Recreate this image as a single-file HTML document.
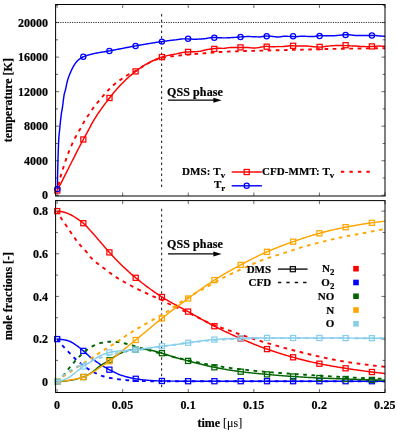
<!DOCTYPE html>
<html><head><meta charset="utf-8"><title>chart</title>
<style>html,body{margin:0;padding:0;background:#fff;}body{width:397px;height:436px;overflow:hidden;font-family:"Liberation Serif",serif;}svg{display:block;will-change:transform;transform:translateZ(0);}</style></head>
<body>
<svg width="397" height="436" viewBox="0 0 397 436">
<rect width="397" height="436" fill="#fff"/>
<defs><clipPath id="c1"><rect x="55.60" y="4.50" width="329.40" height="191.50"/></clipPath><clipPath id="c2"><rect x="55.60" y="200.60" width="329.40" height="191.90"/></clipPath></defs>
<path d="M57.10 196.00 v-3.50 M57.10 4.50 v3.50 M57.10 392.50 v-3.50 M57.10 200.60 v3.50 M122.68 196.00 v-3.50 M122.68 4.50 v3.50 M122.68 392.50 v-3.50 M122.68 200.60 v3.50 M188.26 196.00 v-3.50 M188.26 4.50 v3.50 M188.26 392.50 v-3.50 M188.26 200.60 v3.50 M253.84 196.00 v-3.50 M253.84 4.50 v3.50 M253.84 392.50 v-3.50 M253.84 200.60 v3.50 M319.42 196.00 v-3.50 M319.42 4.50 v3.50 M319.42 392.50 v-3.50 M319.42 200.60 v3.50 M385.00 196.00 v-3.50 M385.00 4.50 v3.50 M385.00 392.50 v-3.50 M385.00 200.60 v3.50 M55.60 195.30 h3.50 M385.00 195.30 h-3.50 M55.60 178.03 h2.40 M385.00 178.03 h-2.40 M55.60 160.75 h3.50 M385.00 160.75 h-3.50 M55.60 143.48 h2.40 M385.00 143.48 h-2.40 M55.60 126.20 h3.50 M385.00 126.20 h-3.50 M55.60 108.93 h2.40 M385.00 108.93 h-2.40 M55.60 91.66 h3.50 M385.00 91.66 h-3.50 M55.60 74.38 h2.40 M385.00 74.38 h-2.40 M55.60 57.11 h3.50 M385.00 57.11 h-3.50 M55.60 39.83 h2.40 M385.00 39.83 h-2.40 M55.60 22.56 h3.50 M385.00 22.56 h-3.50 M55.60 5.29 h2.40 M385.00 5.29 h-2.40 M55.60 381.70 h3.50 M385.00 381.70 h-3.50 M55.60 360.38 h2.40 M385.00 360.38 h-2.40 M55.60 339.06 h3.50 M385.00 339.06 h-3.50 M55.60 317.74 h2.40 M385.00 317.74 h-2.40 M55.60 296.42 h3.50 M385.00 296.42 h-3.50 M55.60 275.10 h2.40 M385.00 275.10 h-2.40 M55.60 253.78 h3.50 M385.00 253.78 h-3.50 M55.60 232.46 h2.40 M385.00 232.46 h-2.40 M55.60 211.14 h3.50 M385.00 211.14 h-3.50" stroke="#444" stroke-width="0.8" fill="none"/>
<path d="M55.60 22.46 H385.00" stroke="#111" stroke-width="0.9" stroke-dasharray="1.15 1.2" fill="none"/>
<path d="M161.65 14.10 V187.60" stroke="#111" stroke-width="1.0" stroke-dasharray="2.4 3.1" fill="none"/>
<path d="M161.65 208.80 V387.40" stroke="#111" stroke-width="1.0" stroke-dasharray="2.4 3.1" fill="none"/>
<path d="M57.30 190.50 L58.30 188.51 L59.30 186.52 L60.30 184.54 L61.30 182.55 L62.30 180.57 L63.30 178.59 L64.30 176.61 L65.30 174.64 L66.30 172.67 L67.30 170.70 L68.30 168.73 L69.30 166.75 L70.30 164.77 L71.30 162.78 L72.30 160.79 L73.30 158.80 L74.30 156.81 L75.30 154.83 L76.30 152.86 L77.30 150.90 L78.30 148.96 L79.30 147.02 L80.30 145.11 L81.30 143.22 L82.30 141.35 L83.30 139.50 L84.30 137.71 L85.30 135.97 L86.30 134.20 L87.30 132.36 L88.30 130.46 L89.30 128.53 L90.30 126.59 L91.30 124.69 L92.30 122.84 L93.30 121.07 L94.30 119.41 L95.30 117.81 L96.30 116.25 L97.30 114.72 L98.30 113.21 L99.30 111.74 L100.30 110.30 L101.30 108.88 L102.30 107.49 L103.30 106.12 L104.30 104.77 L105.30 103.43 L106.30 102.12 L107.30 100.82 L108.30 99.53 L109.30 98.25 L110.30 96.99 L111.30 95.73 L112.30 94.49 L113.30 93.27 L114.30 92.06 L115.30 90.87 L116.30 89.70 L117.30 88.55 L118.30 87.43 L119.30 86.33 L120.30 85.26 L121.30 84.21 L122.30 83.20 L123.30 82.20 L124.30 81.22 L125.30 80.26 L126.30 79.31 L127.30 78.38 L128.30 77.47 L129.30 76.58 L130.30 75.70 L131.30 74.85 L132.30 74.01 L133.30 73.20 L134.30 72.40 L135.30 71.63 L136.30 70.87 L137.30 70.13 L138.30 69.40 L139.30 68.68 L140.30 67.97 L141.30 67.29 L142.30 66.61 L143.30 65.96 L144.30 65.33 L145.30 64.72 L146.30 64.14 L147.30 63.58 L148.30 63.04 L149.30 62.52 L150.30 62.00 L151.30 61.50 L152.30 61.01 L153.30 60.52 L154.30 60.06 L155.30 59.61 L156.30 59.17 L157.30 58.75 L158.30 58.36 L159.30 57.98 L160.30 57.62 L161.30 57.29 L162.30 56.98 L163.30 56.68 L164.30 56.40 L165.30 56.14 L166.30 55.88 L167.30 55.63 L168.30 55.40 L169.30 55.17 L170.30 54.96 L171.30 54.78 L172.30 54.60 L173.30 54.43 L174.30 54.27 L175.30 54.11 L176.30 53.92 L177.30 53.67 L178.30 53.42 L179.30 53.18 L180.30 52.94 L181.30 52.71 L182.30 52.51 L183.30 52.39 L184.30 52.27 L185.30 52.16 L186.30 52.06 L187.30 51.98 L188.30 51.91 L189.30 51.86 L190.30 51.83 L191.30 51.81 L192.30 51.79 L193.30 51.78 L194.30 51.75 L195.30 51.68 L196.30 51.62 L197.30 51.54 L198.30 51.47 L199.30 51.38 L200.30 51.25 L201.30 51.03 L202.30 50.78 L203.30 50.52 L204.30 50.25 L205.30 49.97 L206.30 49.71 L207.30 49.55 L208.30 49.39 L209.30 49.23 L210.30 49.08 L211.30 48.95 L212.30 48.82 L213.30 48.69 L214.30 48.58 L215.30 48.49 L216.30 48.41 L217.30 48.34 L218.30 48.30 L219.30 48.31 L220.30 48.33 L221.30 48.34 L222.30 48.35 L223.30 48.35 L224.30 48.31 L225.30 48.18 L226.30 48.04 L227.30 47.90 L228.30 47.76 L229.30 47.62 L230.30 47.52 L231.30 47.50 L232.30 47.49 L233.30 47.48 L234.30 47.48 L235.30 47.48 L236.30 47.48 L237.30 47.46 L238.30 47.46 L239.30 47.47 L240.30 47.49 L241.30 47.52 L242.30 47.55 L243.30 47.53 L244.30 47.52 L245.30 47.52 L246.30 47.52 L247.30 47.52 L248.30 47.56 L249.30 47.67 L250.30 47.78 L251.30 47.87 L252.30 47.95 L253.30 48.02 L254.30 48.02 L255.30 47.95 L256.30 47.85 L257.30 47.74 L258.30 47.60 L259.30 47.46 L260.30 47.30 L261.30 47.08 L262.30 46.88 L263.30 46.69 L264.30 46.51 L265.30 46.37 L266.30 46.30 L267.30 46.38 L268.30 46.46 L269.30 46.55 L270.30 46.63 L271.30 46.72 L272.30 46.78 L273.30 46.74 L274.30 46.71 L275.30 46.68 L276.30 46.64 L277.30 46.60 L278.30 46.59 L279.30 46.61 L280.30 46.64 L281.30 46.63 L282.30 46.60 L283.30 46.55 L284.30 46.47 L285.30 46.34 L286.30 46.21 L287.30 46.07 L288.30 45.94 L289.30 45.82 L290.30 45.74 L291.30 45.74 L292.30 45.76 L293.30 45.81 L294.30 45.88 L295.30 45.96 L296.30 46.01 L297.30 46.01 L298.30 46.01 L299.30 46.02 L300.30 46.03 L301.30 46.04 L302.30 46.06 L303.30 46.06 L304.30 46.07 L305.30 46.08 L306.30 46.08 L307.30 46.08 L308.30 46.12 L309.30 46.23 L310.30 46.35 L311.30 46.47 L312.30 46.58 L313.30 46.70 L314.30 46.80 L315.30 46.88 L316.30 46.96 L317.30 47.02 L318.30 47.08 L319.30 47.13 L320.30 47.13 L321.30 47.03 L322.30 46.91 L323.30 46.78 L324.30 46.63 L325.30 46.47 L326.30 46.33 L327.30 46.22 L328.30 46.11 L329.30 46.00 L330.30 45.90 L331.30 45.81 L332.30 45.74 L333.30 45.69 L334.30 45.64 L335.30 45.59 L336.30 45.54 L337.30 45.48 L338.30 45.45 L339.30 45.46 L340.30 45.48 L341.30 45.50 L342.30 45.53 L343.30 45.58 L344.30 45.61 L345.30 45.60 L346.30 45.61 L347.30 45.65 L348.30 45.70 L349.30 45.76 L350.30 45.83 L351.30 45.86 L352.30 45.91 L353.30 45.95 L354.30 45.99 L355.30 46.02 L356.30 46.07 L357.30 46.17 L358.30 46.25 L359.30 46.32 L360.30 46.40 L361.30 46.47 L362.30 46.53 L363.30 46.56 L364.30 46.59 L365.30 46.62 L366.30 46.64 L367.30 46.66 L368.30 46.65 L369.30 46.60 L370.30 46.54 L371.30 46.48 L372.30 46.41 L373.30 46.34 L374.30 46.28 L375.30 46.23 L376.30 46.19 L377.30 46.14 L378.30 46.09 L379.30 46.04 L380.30 46.03 L381.30 46.11 L382.30 46.18 L383.30 46.24 L384.30 46.31 L385.00 46.35" stroke="#ff0000" stroke-width="1.45" fill="none" stroke-linejoin="round" clip-path="url(#c1)"/>
<rect x="54.75" y="187.95" width="5.10" height="5.10" fill="none" stroke="#ff0000" stroke-width="1.25"/>
<rect x="80.75" y="136.95" width="5.10" height="5.10" fill="none" stroke="#ff0000" stroke-width="1.25"/>
<rect x="106.95" y="95.45" width="5.10" height="5.10" fill="none" stroke="#ff0000" stroke-width="1.25"/>
<rect x="133.05" y="68.85" width="5.10" height="5.10" fill="none" stroke="#ff0000" stroke-width="1.25"/>
<rect x="159.35" y="54.55" width="5.10" height="5.10" fill="none" stroke="#ff0000" stroke-width="1.25"/>
<rect x="185.55" y="49.35" width="5.10" height="5.10" fill="none" stroke="#ff0000" stroke-width="1.25"/>
<rect x="211.75" y="46.35" width="5.10" height="5.10" fill="none" stroke="#ff0000" stroke-width="1.25"/>
<rect x="237.95" y="44.85" width="5.10" height="5.10" fill="none" stroke="#ff0000" stroke-width="1.25"/>
<rect x="264.15" y="44.15" width="5.10" height="5.10" fill="none" stroke="#ff0000" stroke-width="1.25"/>
<rect x="290.55" y="43.25" width="5.10" height="5.10" fill="none" stroke="#ff0000" stroke-width="1.25"/>
<rect x="317.05" y="44.35" width="5.10" height="5.10" fill="none" stroke="#ff0000" stroke-width="1.25"/>
<rect x="343.05" y="42.65" width="5.10" height="5.10" fill="none" stroke="#ff0000" stroke-width="1.25"/>
<rect x="369.35" y="43.85" width="5.10" height="5.10" fill="none" stroke="#ff0000" stroke-width="1.25"/>
<path d="M57.40 189.00 L57.41 188.40 L57.41 187.80 L57.42 187.20 L57.42 186.60 L57.43 186.00 L57.44 185.40 L57.44 184.80 L57.45 184.20 L57.46 183.60 L57.47 183.00 L57.48 182.40 L57.49 181.80 L57.49 181.20 L57.50 180.60 L57.51 180.00 L57.52 179.40 L57.53 178.80 L57.54 178.20 L57.55 177.60 L57.56 177.00 L57.57 176.40 L57.59 175.80 L57.60 175.20 L57.61 174.60 L57.62 174.00 L57.63 173.40 L57.64 172.80 L57.66 172.20 L57.67 171.60 L57.68 171.00 L57.70 170.40 L57.71 169.80 L57.73 169.20 L57.74 168.60 L57.76 168.00 L57.78 167.40 L57.79 166.80 L57.81 166.20 L57.83 165.60 L57.84 165.00 L57.86 164.40 L57.88 163.80 L57.89 163.21 L57.91 162.61 L57.93 162.01 L57.95 161.41 L57.96 160.81 L57.98 160.21 L58.00 159.61 L58.02 159.01 L58.03 158.41 L58.05 157.81 L58.07 157.21 L58.09 156.61 L58.10 156.01 L58.12 155.41 L58.14 154.81 L58.16 154.21 L58.18 153.61 L58.19 153.01 L58.21 152.41 L58.23 151.81 L58.25 151.21 L58.27 150.61 L58.29 150.01 L58.32 149.41 L58.34 148.81 L58.36 148.21 L58.38 147.61 L58.41 147.01 L58.43 146.41 L58.45 145.81 L58.48 145.21 L58.50 144.61 L58.53 144.01 L58.56 143.41 L58.58 142.81 L58.61 142.21 L58.64 141.61 L58.67 141.02 L58.70 140.42 L58.73 139.82 L58.77 139.22 L58.80 138.62 L58.83 138.02 L58.87 137.43 L58.92 136.83 L58.97 136.23 L59.02 135.63 L59.07 135.03 L59.13 134.44 L59.19 133.84 L59.25 133.24 L59.31 132.65 L59.37 132.05 L59.44 131.45 L59.50 130.85 L59.56 130.26 L59.63 129.66 L59.69 129.06 L59.75 128.47 L59.81 127.87 L59.87 127.27 L59.93 126.68 L59.99 126.08 L60.05 125.48 L60.11 124.88 L60.17 124.29 L60.23 123.69 L60.29 123.09 L60.35 122.49 L60.42 121.90 L60.48 121.30 L60.54 120.70 L60.60 120.11 L60.67 119.51 L60.74 118.91 L60.80 118.32 L60.87 117.72 L60.94 117.13 L61.01 116.53 L61.09 115.94 L61.16 115.34 L61.24 114.75 L61.32 114.15 L61.40 113.56 L61.49 112.97 L61.59 112.37 L61.69 111.78 L61.79 111.19 L61.89 110.60 L62.00 110.01 L62.10 109.42 L62.20 108.82 L62.30 108.23 L62.40 107.64 L62.49 107.05 L62.58 106.45 L62.67 105.86 L62.75 105.26 L62.82 104.67 L62.90 104.07 L62.97 103.48 L63.05 102.88 L63.12 102.28 L63.19 101.68 L63.26 101.09 L63.33 100.49 L63.40 99.89 L63.48 99.30 L63.55 98.70 L63.63 98.10 L63.72 97.51 L63.80 96.92 L63.89 96.33 L63.99 95.74 L64.09 95.15 L64.19 94.56 L64.31 93.97 L64.43 93.39 L64.59 92.81 L64.75 92.23 L64.93 91.66 L65.10 91.08 L65.27 90.50 L65.42 89.92 L65.56 89.34 L65.70 88.76 L65.83 88.17 L65.96 87.58 L66.08 86.99 L66.20 86.40 L66.32 85.81 L66.44 85.22 L66.57 84.63 L66.69 84.05 L66.82 83.46 L66.95 82.87 L67.08 82.29 L67.22 81.71 L67.37 81.13 L67.53 80.56 L67.69 79.98 L67.86 79.41 L68.04 78.84 L68.23 78.27 L68.42 77.70 L68.62 77.13 L68.82 76.57 L69.03 76.00 L69.25 75.44 L69.47 74.88 L69.70 74.32 L69.93 73.76 L70.16 73.21 L70.40 72.65 L70.64 72.10 L70.88 71.55 L71.13 71.01 L71.38 70.47 L71.63 69.92 L71.88 69.38 L72.15 68.84 L72.41 68.30 L72.69 67.75 L72.96 67.22 L73.25 66.68 L73.54 66.15 L73.84 65.62 L74.15 65.11 L74.47 64.60 L74.80 64.10 L75.13 63.61 L75.47 63.13 L75.83 62.67 L76.21 62.20 L76.60 61.74 L77.01 61.29 L77.43 60.85 L77.87 60.42 L78.31 60.01 L78.76 59.61 L79.22 59.24 L79.69 58.88 L80.18 58.54 L80.68 58.20 L81.20 57.88 L81.72 57.58 L82.26 57.29 L82.80 57.02 L83.34 56.78 L83.88 56.56 L84.43 56.34 L84.99 56.13 L85.55 55.93 L86.11 55.73 L86.68 55.55 L87.26 55.36 L87.83 55.18 L88.41 55.01 L89.00 54.85 L89.58 54.68 L90.17 54.53 L90.75 54.38 L91.34 54.23 L91.93 54.08 L92.51 53.94 L93.10 53.81 L93.68 53.67 L94.27 53.54 L94.85 53.41 L95.43 53.29 L96.02 53.17 L96.61 53.06 L97.20 52.94 L97.79 52.84 L98.37 52.73 L98.97 52.62 L99.56 52.52 L100.15 52.42 L100.74 52.32 L101.33 52.23 L101.93 52.13 L102.52 52.04 L103.12 51.94 L103.71 51.85 L104.30 51.75 L104.90 51.66 L105.49 51.56 L106.08 51.47 L106.68 51.37 L107.27 51.27 L107.86 51.17 L108.45 51.07 L109.04 50.96 L109.64 50.86 L110.23 50.75 L110.82 50.64 L111.41 50.53 L111.99 50.42 L112.58 50.31 L113.17 50.20 L113.76 50.08 L114.35 49.97 L114.94 49.86 L115.53 49.75 L116.12 49.63 L116.71 49.52 L117.30 49.40 L117.89 49.29 L118.48 49.17 L119.07 49.06 L119.65 48.94 L120.24 48.82 L120.83 48.71 L121.42 48.59 L122.01 48.48 L122.60 48.36 L123.19 48.25 L123.78 48.13 L124.36 48.01 L124.95 47.90 L125.54 47.78 L126.13 47.67 L126.72 47.55 L127.31 47.44 L127.90 47.33 L128.49 47.21 L129.08 47.10 L129.67 46.99 L130.26 46.88 L130.85 46.77 L131.44 46.66 L132.02 46.55 L132.61 46.44 L133.20 46.33 L133.80 46.22 L134.39 46.12 L134.98 46.01 L135.57 45.91 L136.16 45.80 L136.75 45.70 L137.34 45.59 L137.93 45.49 L138.52 45.38 L139.11 45.28 L139.70 45.18 L140.29 45.07 L140.88 44.97 L141.48 44.86 L142.07 44.76 L142.66 44.65 L143.25 44.55 L143.84 44.45 L144.43 44.34 L145.02 44.24 L145.62 44.14 L146.21 44.04 L146.80 43.94 L147.39 43.83 L147.98 43.73 L148.57 43.63 L149.17 43.53 L149.76 43.44 L150.35 43.34 L150.94 43.24 L151.53 43.14 L152.13 43.05 L152.72 42.95 L153.31 42.86 L153.91 42.76 L154.50 42.67 L155.09 42.58 L155.68 42.49 L156.28 42.40 L156.87 42.31 L157.46 42.22 L158.06 42.13 L158.65 42.05 L159.24 41.96 L159.84 41.88 L160.43 41.80 L161.03 41.72 L161.62 41.64 L162.21 41.56 L162.81 41.48 L163.40 41.40 L164.00 41.31 L164.59 41.23 L165.19 41.14 L165.78 41.06 L166.38 40.97 L166.97 40.88 L167.57 40.79 L168.16 40.70 L168.76 40.61 L169.35 40.52 L169.95 40.44 L170.54 40.37 L171.14 40.31 L171.74 40.25 L172.33 40.18 L172.93 40.12 L173.52 40.07 L174.12 40.01 L174.72 39.95 L175.31 39.90 L175.91 39.85 L176.51 39.75 L177.10 39.64 L177.70 39.54 L178.30 39.44 L178.89 39.35 L179.49 39.25 L180.09 39.16 L180.68 39.08 L181.28 38.99 L181.88 38.91 L182.48 38.88 L183.07 38.87 L183.67 38.85 L184.27 38.85 L184.87 38.84 L185.47 38.84 L186.06 38.85 L186.66 38.86 L187.26 38.87 L187.86 38.90 L188.46 38.92 L189.05 38.95 L189.65 38.98 L190.25 39.01 L190.85 39.05 L191.45 39.09 L192.05 39.14 L192.65 39.18 L193.25 39.23 L193.85 39.27 L194.45 39.27 L195.05 39.25 L195.65 39.24 L196.25 39.22 L196.86 39.20 L197.46 39.17 L198.05 39.15 L198.65 39.12 L199.25 39.08 L199.85 39.04 L200.45 39.02 L201.05 39.00 L201.65 38.97 L202.25 38.93 L202.84 38.88 L203.44 38.82 L204.04 38.76 L204.64 38.69 L205.24 38.62 L205.83 38.54 L206.43 38.44 L207.03 38.33 L207.63 38.22 L208.22 38.11 L208.82 38.00 L209.42 37.89 L210.02 37.79 L210.61 37.69 L211.21 37.60 L211.81 37.52 L212.41 37.48 L213.01 37.47 L213.61 37.47 L214.20 37.48 L214.80 37.50 L215.40 37.52 L216.00 37.54 L216.60 37.57 L217.20 37.60 L217.80 37.63 L218.40 37.66 L219.00 37.69 L219.60 37.72 L220.20 37.75 L220.80 37.78 L221.40 37.81 L222.00 37.83 L222.60 37.85 L223.20 37.87 L223.80 37.88 L224.40 37.88 L225.00 37.87 L225.60 37.86 L226.20 37.85 L226.80 37.83 L227.40 37.80 L228.00 37.78 L228.59 37.75 L229.19 37.72 L229.79 37.69 L230.39 37.66 L230.99 37.62 L231.59 37.58 L232.19 37.54 L232.79 37.50 L233.39 37.47 L233.98 37.43 L234.58 37.40 L235.18 37.37 L235.78 37.34 L236.38 37.28 L236.98 37.21 L237.58 37.14 L238.18 37.08 L238.78 37.02 L239.38 36.97 L239.98 36.92 L240.58 36.88 L241.18 36.85 L241.77 36.81 L242.37 36.78 L242.97 36.75 L243.57 36.72 L244.17 36.69 L244.77 36.66 L245.37 36.63 L245.97 36.61 L246.58 36.58 L247.18 36.55 L247.78 36.52 L248.38 36.52 L248.98 36.54 L249.58 36.56 L250.18 36.58 L250.78 36.60 L251.38 36.62 L251.98 36.64 L252.58 36.66 L253.18 36.68 L253.78 36.70 L254.37 36.73 L254.97 36.77 L255.57 36.80 L256.17 36.83 L256.77 36.86 L257.37 36.88 L257.97 36.90 L258.57 36.92 L259.17 36.94 L259.77 36.95 L260.37 36.90 L260.97 36.79 L261.57 36.69 L262.17 36.60 L262.77 36.50 L263.37 36.41 L263.96 36.32 L264.56 36.23 L265.16 36.15 L265.76 36.07 L266.36 36.06 L266.96 36.08 L267.56 36.10 L268.16 36.13 L268.76 36.17 L269.36 36.20 L269.96 36.24 L270.56 36.29 L271.16 36.33 L271.76 36.38 L272.36 36.44 L272.96 36.51 L273.56 36.58 L274.16 36.65 L274.76 36.72 L275.36 36.79 L275.96 36.85 L276.56 36.92 L277.16 36.98 L277.76 37.04 L278.36 37.02 L278.96 36.95 L279.56 36.88 L280.16 36.79 L280.76 36.71 L281.36 36.62 L281.96 36.53 L282.56 36.43 L283.15 36.33 L283.75 36.23 L284.35 36.20 L284.95 36.23 L285.55 36.25 L286.15 36.28 L286.75 36.30 L287.35 36.33 L287.95 36.35 L288.55 36.38 L289.15 36.40 L289.75 36.43 L290.35 36.45 L290.95 36.47 L291.55 36.49 L292.15 36.51 L292.75 36.54 L293.35 36.57 L293.95 36.60 L294.55 36.63 L295.15 36.67 L295.75 36.70 L296.35 36.68 L296.95 36.62 L297.55 36.57 L298.15 36.51 L298.75 36.45 L299.35 36.39 L299.95 36.33 L300.55 36.28 L301.15 36.22 L301.75 36.16 L302.35 36.15 L302.95 36.19 L303.55 36.22 L304.15 36.25 L304.75 36.29 L305.35 36.32 L305.95 36.35 L306.55 36.37 L307.15 36.40 L307.75 36.41 L308.35 36.43 L308.95 36.45 L309.55 36.46 L310.15 36.47 L310.75 36.48 L311.35 36.49 L311.95 36.50 L312.55 36.50 L313.15 36.50 L313.74 36.51 L314.34 36.45 L314.94 36.35 L315.54 36.25 L316.14 36.16 L316.74 36.06 L317.34 35.96 L317.94 35.87 L318.54 35.77 L319.14 35.68 L319.74 35.60 L320.34 35.57 L320.94 35.59 L321.54 35.61 L322.14 35.63 L322.74 35.65 L323.34 35.67 L323.94 35.69 L324.54 35.72 L325.14 35.74 L325.74 35.76 L326.34 35.78 L326.94 35.78 L327.54 35.79 L328.14 35.80 L328.74 35.81 L329.34 35.81 L329.94 35.82 L330.54 35.82 L331.14 35.82 L331.74 35.82 L332.34 35.81 L332.94 35.78 L333.54 35.74 L334.14 35.70 L334.73 35.66 L335.33 35.62 L335.93 35.57 L336.53 35.52 L337.13 35.47 L337.73 35.42 L338.33 35.37 L338.93 35.31 L339.53 35.25 L340.13 35.19 L340.73 35.14 L341.33 35.09 L341.92 35.04 L342.52 34.99 L343.12 34.95 L343.72 34.91 L344.32 34.87 L344.92 34.84 L345.52 34.81 L346.12 34.79 L346.72 34.78 L347.32 34.78 L347.92 34.78 L348.51 34.79 L349.11 34.81 L349.71 34.83 L350.31 34.87 L350.91 34.95 L351.51 35.02 L352.11 35.10 L352.71 35.18 L353.31 35.25 L353.90 35.32 L354.50 35.39 L355.10 35.46 L355.70 35.52 L356.30 35.55 L356.90 35.56 L357.50 35.56 L358.10 35.55 L358.70 35.54 L359.30 35.53 L359.90 35.52 L360.50 35.50 L361.10 35.49 L361.70 35.47 L362.30 35.47 L362.90 35.47 L363.50 35.47 L364.10 35.48 L364.70 35.48 L365.30 35.48 L365.90 35.49 L366.50 35.49 L367.10 35.49 L367.70 35.50 L368.30 35.49 L368.90 35.48 L369.50 35.46 L370.10 35.45 L370.70 35.44 L371.30 35.43 L371.90 35.41 L372.50 35.41 L373.10 35.40 L373.70 35.40 L374.30 35.42 L374.90 35.48 L375.50 35.53 L376.10 35.59 L376.70 35.66 L377.30 35.72 L377.90 35.78 L378.50 35.85 L379.09 35.92 L379.69 35.99 L380.29 36.04 L380.89 36.06 L381.49 36.09 L382.09 36.11 L382.69 36.14 L383.29 36.17 L383.89 36.20 L384.49 36.23 L385.00 36.25" stroke="#0000ff" stroke-width="1.45" fill="none" stroke-linejoin="round" clip-path="url(#c1)"/>
<circle cx="57.40" cy="189.00" r="2.6" fill="none" stroke="#0000ff" stroke-width="1.25"/>
<circle cx="83.30" cy="56.80" r="2.6" fill="none" stroke="#0000ff" stroke-width="1.25"/>
<circle cx="109.40" cy="50.90" r="2.6" fill="none" stroke="#0000ff" stroke-width="1.25"/>
<circle cx="135.60" cy="45.90" r="2.6" fill="none" stroke="#0000ff" stroke-width="1.25"/>
<circle cx="161.90" cy="41.60" r="2.6" fill="none" stroke="#0000ff" stroke-width="1.25"/>
<circle cx="188.10" cy="38.70" r="2.6" fill="none" stroke="#0000ff" stroke-width="1.25"/>
<circle cx="214.30" cy="37.80" r="2.6" fill="none" stroke="#0000ff" stroke-width="1.25"/>
<circle cx="240.50" cy="36.90" r="2.6" fill="none" stroke="#0000ff" stroke-width="1.25"/>
<circle cx="266.70" cy="36.30" r="2.6" fill="none" stroke="#0000ff" stroke-width="1.25"/>
<circle cx="293.10" cy="36.30" r="2.6" fill="none" stroke="#0000ff" stroke-width="1.25"/>
<circle cx="319.60" cy="35.90" r="2.6" fill="none" stroke="#0000ff" stroke-width="1.25"/>
<circle cx="345.60" cy="34.90" r="2.6" fill="none" stroke="#0000ff" stroke-width="1.25"/>
<circle cx="371.90" cy="35.50" r="2.6" fill="none" stroke="#0000ff" stroke-width="1.25"/>
<path d="M57.30 190.50 L57.41 189.98 M58.38 185.48 L59.21 181.88 M60.34 177.42 L61.30 174.07 L61.37 173.87 M62.75 169.48 L63.30 167.77 L63.88 165.95 M65.30 161.58 L65.30 161.57 L66.30 158.64 L66.50 158.08 M68.06 153.75 L68.30 153.10 L69.30 150.54 L69.40 150.30 M71.18 146.06 L71.30 145.78 L72.30 143.57 L72.72 142.70 M74.76 138.58 L75.30 137.53 L76.30 135.67 L76.50 135.31 M78.81 131.33 L79.30 130.48 L80.30 128.69 L80.61 128.10 M82.79 124.05 L83.30 123.14 L84.30 121.47 L84.68 120.87 M87.18 117.01 L87.30 116.82 L88.30 115.29 L89.19 113.90 M91.72 110.06 L92.30 109.22 L93.30 107.85 L93.90 107.07 M96.78 103.49 L97.30 102.86 L98.30 101.63 L99.09 100.66 M101.94 97.18 L102.30 96.75 L103.30 95.59 L104.30 94.45 L104.30 94.44 M107.33 91.12 L108.30 90.11 L109.30 89.10 L109.87 88.54 M113.13 85.45 L113.30 85.29 L114.30 84.42 L115.30 83.59 L115.90 83.12 M119.51 80.45 L120.30 79.90 L121.30 79.21 L122.30 78.52 L122.49 78.39 M126.23 75.90 L126.30 75.85 L127.30 75.24 L128.30 74.66 L129.30 74.11 L129.36 74.09 M133.41 72.15 L134.30 71.72 L135.30 71.21 L136.30 70.67 L136.62 70.48 M140.42 68.07 L141.30 67.49 L142.30 66.82 L143.30 66.16 L143.43 66.07 M147.29 63.76 L147.30 63.76 L148.30 63.25 L149.30 62.76 L150.30 62.27 L150.53 62.16 M154.60 60.26 L155.30 59.96 L156.30 59.55 L157.30 59.16 L157.96 58.93 M162.29 57.72 L162.30 57.72 L163.30 57.53 L164.30 57.37 L165.30 57.21 L165.86 57.14 M170.32 56.56 L171.30 56.43 L172.30 56.30 L173.30 56.18 L173.91 56.10 M178.37 55.58 L179.30 55.47 L180.30 55.37 L181.30 55.26 L181.97 55.19 M186.44 54.76 L187.30 54.68 L188.30 54.59 L189.30 54.50 L190.05 54.44 M194.53 54.06 L195.30 53.99 L196.30 53.91 L197.30 53.83 L198.13 53.76 M202.61 53.40 L203.30 53.35 L204.30 53.27 L205.30 53.19 L206.22 53.12 M210.70 52.76 L211.30 52.71 L212.30 52.63 L213.30 52.55 L214.30 52.47 L214.31 52.47 M218.81 52.10 L219.30 52.06 L220.30 52.00 L221.30 51.94 L222.30 51.89 L222.43 51.88 M226.94 51.66 L227.30 51.65 L228.30 51.61 L229.30 51.57 L230.30 51.53 L230.56 51.52 M235.07 51.37 L235.30 51.36 L236.30 51.33 L237.30 51.30 L238.30 51.27 L238.70 51.25 M243.21 51.12 L243.30 51.12 L244.30 51.09 L245.30 51.06 L246.30 51.03 L246.84 51.02 M251.35 50.89 L252.30 50.87 L253.30 50.84 L254.30 50.81 L254.98 50.80 M259.49 50.68 L260.30 50.66 L261.30 50.63 L262.30 50.61 L263.11 50.59 M267.62 50.48 L268.30 50.46 L269.30 50.44 L270.30 50.41 L271.25 50.39 M275.76 50.29 L276.30 50.28 L277.30 50.26 L278.30 50.23 L279.30 50.21 L279.39 50.21 M283.90 50.11 L284.30 50.10 L285.30 50.08 L286.30 50.06 L287.30 50.04 L287.53 50.03 M292.04 49.93 L292.30 49.92 L293.30 49.90 L294.30 49.87 L295.30 49.84 L295.67 49.84 M300.18 49.71 L300.30 49.71 L301.30 49.68 L302.30 49.65 L303.30 49.63 L303.81 49.61 M308.32 49.49 L309.30 49.46 L310.30 49.43 L311.30 49.40 L311.95 49.39 M316.46 49.27 L317.30 49.25 L318.30 49.23 L319.30 49.20 L320.08 49.19 M324.60 49.09 L325.30 49.07 L326.30 49.05 L327.30 49.03 L328.22 49.01 M332.74 48.93 L333.30 48.91 L334.30 48.90 L335.30 48.88 L336.30 48.86 L336.40 48.86 M341.00 48.78 L341.30 48.77 L342.30 48.75 L343.30 48.74 L344.30 48.72 L344.70 48.72 M349.30 48.65 L350.30 48.63 L351.30 48.62 L352.30 48.60 L353.00 48.59 M357.60 48.52 L358.30 48.51 L359.30 48.50 L360.30 48.49 L361.30 48.47 M365.90 48.41 L366.30 48.41 L367.30 48.39 L368.30 48.38 L369.30 48.37 L369.60 48.37 M374.20 48.31 L374.30 48.31 L375.30 48.30 L376.30 48.29 L377.30 48.28 L377.90 48.27 M382.50 48.23 L383.30 48.22 L384.30 48.21 L385.30 48.20 L385.50 48.20" stroke="#ff0000" stroke-width="1.90" fill="none" clip-path="url(#c1)"/>
<path d="M57.20 211.10 L58.20 212.97 L58.22 213.01 M60.50 217.01 L61.20 218.18 L62.20 219.75 L62.47 220.14 M65.08 223.93 L65.20 224.09 L66.20 225.55 L67.17 226.98 M69.74 230.79 L70.20 231.47 L71.20 232.94 L71.82 233.86 M74.39 237.65 L75.20 238.79 L76.20 240.15 L76.54 240.61 M79.34 244.19 L80.20 245.23 L81.20 246.38 L81.74 246.95 M84.91 250.21 L85.20 250.51 L86.20 251.63 L87.20 252.89 L87.28 253.00 M90.04 256.61 L90.20 256.81 L91.20 257.90 L92.20 258.89 L92.57 259.25 M96.00 262.24 L96.20 262.41 L97.20 263.20 L98.20 263.98 L98.88 264.50 M102.50 267.24 L103.20 267.78 L104.20 268.55 L105.20 269.32 L105.40 269.47 M109.03 272.21 L109.20 272.33 L110.20 273.07 L111.20 273.79 L112.00 274.36 M115.76 276.91 L116.20 277.20 L117.20 277.84 L118.20 278.46 L118.85 278.86 M122.77 281.17 L123.20 281.41 L124.20 281.98 L125.20 282.54 L125.97 282.96 M130.02 285.15 L130.20 285.25 L131.20 285.78 L132.20 286.30 L133.20 286.82 L133.31 286.87 M137.42 288.94 L138.20 289.32 L139.20 289.81 L140.20 290.29 L140.75 290.56 M144.91 292.54 L145.20 292.68 L146.20 293.15 L147.20 293.62 L148.20 294.08 L148.26 294.11 M152.45 296.03 L153.20 296.36 L154.20 296.80 L155.20 297.24 L155.84 297.52 M160.11 299.23 L160.20 299.27 L161.20 299.68 L162.20 300.14 L163.20 300.66 L163.46 300.81 M167.46 303.10 L168.20 303.50 L169.20 304.00 L170.20 304.47 L170.78 304.74 M174.98 306.63 L175.20 306.74 L176.20 307.20 L177.20 307.68 L178.20 308.17 L178.32 308.23 M182.46 310.25 L183.20 310.60 L184.20 311.04 L185.20 311.46 L185.86 311.72 M190.07 313.56 L190.20 313.62 L191.20 314.11 L192.20 314.62 L193.20 315.13 L193.38 315.23 M197.47 317.34 L198.20 317.71 L199.20 318.21 L200.20 318.70 L200.79 318.98 M204.94 320.99 L205.20 321.11 L206.20 321.59 L207.20 322.06 L208.20 322.53 L208.29 322.57 M212.49 324.45 L213.20 324.75 L214.20 325.16 L215.20 325.56 L215.93 325.84 M220.25 327.43 L221.20 327.76 L222.20 328.11 L223.20 328.45 L223.75 328.64 M228.10 330.14 L228.20 330.17 L229.20 330.52 L230.20 330.87 L231.20 331.23 L231.60 331.37 M235.93 332.93 L236.20 333.02 L237.20 333.38 L238.20 333.73 L239.20 334.08 L239.42 334.16 M243.79 335.64 L244.20 335.78 L245.20 336.11 L246.20 336.44 L247.20 336.77 L247.30 336.81 M251.68 338.24 L252.20 338.41 L253.20 338.73 L254.20 339.05 L255.20 339.37 L255.20 339.37 M259.60 340.75 L260.20 340.94 L261.20 341.25 L262.20 341.56 L263.14 341.84 M267.55 343.16 L268.20 343.35 L269.20 343.65 L270.20 343.94 L271.10 344.20 M275.53 345.46 L276.20 345.65 L277.20 345.93 L278.20 346.21 L279.10 346.46 M283.54 347.68 L284.20 347.85 L285.20 348.12 L286.20 348.39 L287.12 348.63 M291.57 349.80 L292.20 349.97 L293.20 350.23 L294.20 350.48 L295.16 350.73 M299.62 351.87 L300.20 352.01 L301.20 352.27 L302.20 352.52 L303.20 352.77 L303.22 352.77 M307.69 353.87 L308.20 353.99 L309.20 354.23 L310.20 354.47 L311.20 354.71 L311.29 354.73 M315.78 355.77 L316.20 355.87 L317.20 356.09 L318.20 356.31 L319.20 356.53 L319.39 356.58 M323.89 357.56 L324.20 357.63 L325.20 357.84 L326.20 358.06 L327.20 358.27 L327.51 358.34 M332.02 359.28 L332.20 359.32 L333.20 359.52 L334.20 359.73 L335.20 359.93 L335.65 360.01 M340.17 360.87 L340.20 360.88 L341.20 361.06 L342.20 361.23 L343.20 361.40 L343.82 361.51 M348.37 362.23 L349.20 362.35 L350.20 362.50 L351.20 362.65 L352.04 362.76 M356.60 363.39 L357.20 363.47 L358.20 363.60 L359.20 363.72 L360.20 363.85 L360.27 363.86 M364.83 364.43 L365.20 364.48 L366.20 364.60 L367.20 364.72 L368.20 364.84 L368.50 364.88 M373.07 365.44 L373.20 365.46 L374.20 365.58 L375.20 365.70 L376.20 365.82 L376.74 365.89 M381.31 366.42 L382.20 366.53 L383.20 366.64 L384.20 366.75 L384.99 366.84" stroke="#ff0000" stroke-width="1.90" fill="none" clip-path="url(#c2)"/>
<path d="M57.20 211.10 L58.20 211.17 L59.20 211.27 L60.20 211.41 L61.20 211.58 L62.20 211.76 L63.20 211.96 L64.20 212.21 L65.20 212.51 L66.20 212.85 L67.20 213.23 L68.20 213.63 L69.20 214.06 L70.20 214.50 L71.20 215.00 L72.20 215.55 L73.20 216.13 L74.20 216.75 L75.20 217.39 L76.20 218.04 L77.20 218.69 L78.20 219.36 L79.20 220.04 L80.20 220.76 L81.20 221.50 L82.20 222.29 L83.20 223.11 L84.20 224.01 L85.20 224.98 L86.20 226.01 L87.20 227.08 L88.20 228.18 L89.20 229.28 L90.20 230.38 L91.20 231.47 L92.20 232.59 L93.20 233.71 L94.20 234.85 L95.20 235.99 L96.20 237.13 L97.20 238.28 L98.20 239.44 L99.20 240.60 L100.20 241.78 L101.20 242.96 L102.20 244.13 L103.20 245.31 L104.20 246.48 L105.20 247.65 L106.20 248.80 L107.20 249.95 L108.20 251.07 L109.20 252.18 L110.20 253.27 L111.20 254.36 L112.20 255.44 L113.20 256.51 L114.20 257.58 L115.20 258.63 L116.20 259.68 L117.20 260.71 L118.20 261.73 L119.20 262.74 L120.20 263.74 L121.20 264.72 L122.20 265.69 L123.20 266.65 L124.20 267.60 L125.20 268.55 L126.20 269.48 L127.20 270.40 L128.20 271.32 L129.20 272.22 L130.20 273.11 L131.20 273.99 L132.20 274.86 L133.20 275.72 L134.20 276.56 L135.20 277.39 L136.20 278.21 L137.20 279.02 L138.20 279.82 L139.20 280.62 L140.20 281.42 L141.20 282.21 L142.20 282.99 L143.20 283.77 L144.20 284.54 L145.20 285.30 L146.20 286.06 L147.20 286.81 L148.20 287.55 L149.20 288.29 L150.20 289.02 L151.20 289.75 L152.20 290.46 L153.20 291.17 L154.20 291.87 L155.20 292.57 L156.20 293.25 L157.20 293.93 L158.20 294.60 L159.20 295.26 L160.20 295.91 L161.20 296.55 L162.20 297.19 L163.20 297.81 L164.20 298.43 L165.20 299.03 L166.20 299.62 L167.20 300.21 L168.20 300.79 L169.20 301.36 L170.20 301.92 L171.20 302.48 L172.20 303.03 L173.20 303.58 L174.20 304.12 L175.20 304.66 L176.20 305.20 L177.20 305.73 L178.20 306.26 L179.20 306.80 L180.20 307.33 L181.20 307.86 L182.20 308.39 L183.20 308.93 L184.20 309.47 L185.20 310.01 L186.20 310.55 L187.20 311.10 L188.20 311.66 L189.20 312.21 L190.20 312.77 L191.20 313.34 L192.20 313.90 L193.20 314.47 L194.20 315.04 L195.20 315.61 L196.20 316.18 L197.20 316.75 L198.20 317.32 L199.20 317.89 L200.20 318.46 L201.20 319.02 L202.20 319.59 L203.20 320.15 L204.20 320.71 L205.20 321.27 L206.20 321.83 L207.20 322.38 L208.20 322.92 L209.20 323.47 L210.20 324.00 L211.20 324.54 L212.20 325.06 L213.20 325.58 L214.20 326.10 L215.20 326.61 L216.20 327.11 L217.20 327.62 L218.20 328.12 L219.20 328.61 L220.20 329.11 L221.20 329.60 L222.20 330.09 L223.20 330.58 L224.20 331.06 L225.20 331.54 L226.20 332.02 L227.20 332.49 L228.20 332.96 L229.20 333.43 L230.20 333.89 L231.20 334.36 L232.20 334.82 L233.20 335.27 L234.20 335.73 L235.20 336.18 L236.20 336.62 L237.20 337.07 L238.20 337.51 L239.20 337.95 L240.20 338.38 L241.20 338.82 L242.20 339.25 L243.20 339.68 L244.20 340.10 L245.20 340.53 L246.20 340.95 L247.20 341.37 L248.20 341.79 L249.20 342.21 L250.20 342.63 L251.20 343.04 L252.20 343.45 L253.20 343.85 L254.20 344.26 L255.20 344.66 L256.20 345.05 L257.20 345.45 L258.20 345.84 L259.20 346.22 L260.20 346.61 L261.20 346.99 L262.20 347.36 L263.20 347.73 L264.20 348.10 L265.20 348.46 L266.20 348.82 L267.20 349.17 L268.20 349.52 L269.20 349.87 L270.20 350.21 L271.20 350.55 L272.20 350.89 L273.20 351.23 L274.20 351.56 L275.20 351.89 L276.20 352.22 L277.20 352.54 L278.20 352.86 L279.20 353.18 L280.20 353.50 L281.20 353.81 L282.20 354.12 L283.20 354.43 L284.20 354.73 L285.20 355.03 L286.20 355.33 L287.20 355.63 L288.20 355.92 L289.20 356.21 L290.20 356.49 L291.20 356.77 L292.20 357.05 L293.20 357.33 L294.20 357.60 L295.20 357.87 L296.20 358.14 L297.20 358.41 L298.20 358.68 L299.20 358.94 L300.20 359.20 L301.20 359.46 L302.20 359.72 L303.20 359.97 L304.20 360.22 L305.20 360.47 L306.20 360.72 L307.20 360.96 L308.20 361.20 L309.20 361.44 L310.20 361.68 L311.20 361.91 L312.20 362.14 L313.20 362.37 L314.20 362.59 L315.20 362.81 L316.20 363.03 L317.20 363.24 L318.20 363.45 L319.20 363.66 L320.20 363.86 L321.20 364.06 L322.20 364.26 L323.20 364.46 L324.20 364.65 L325.20 364.84 L326.20 365.03 L327.20 365.21 L328.20 365.39 L329.20 365.57 L330.20 365.75 L331.20 365.93 L332.20 366.10 L333.20 366.28 L334.20 366.45 L335.20 366.62 L336.20 366.79 L337.20 366.95 L338.20 367.12 L339.20 367.28 L340.20 367.44 L341.20 367.60 L342.20 367.76 L343.20 367.92 L344.20 368.08 L345.20 368.24 L346.20 368.39 L347.20 368.55 L348.20 368.70 L349.20 368.85 L350.20 369.01 L351.20 369.16 L352.20 369.31 L353.20 369.45 L354.20 369.60 L355.20 369.75 L356.20 369.89 L357.20 370.03 L358.20 370.18 L359.20 370.32 L360.20 370.46 L361.20 370.59 L362.20 370.73 L363.20 370.87 L364.20 371.00 L365.20 371.14 L366.20 371.27 L367.20 371.40 L368.20 371.53 L369.20 371.66 L370.20 371.79 L371.20 371.91 L372.20 372.04 L373.20 372.16 L374.20 372.28 L375.20 372.40 L376.20 372.52 L377.20 372.64 L378.20 372.75 L379.20 372.87 L380.20 372.98 L381.20 373.09 L382.20 373.20 L383.20 373.31 L384.20 373.42 L385.00 373.50" stroke="#ff0000" stroke-width="1.45" fill="none" stroke-linejoin="round" clip-path="url(#c2)"/>
<rect x="54.65" y="208.55" width="5.10" height="5.10" fill="none" stroke="#ff0000" stroke-width="1.25"/>
<rect x="80.75" y="220.65" width="5.10" height="5.10" fill="none" stroke="#ff0000" stroke-width="1.25"/>
<rect x="106.85" y="249.85" width="5.10" height="5.10" fill="none" stroke="#ff0000" stroke-width="1.25"/>
<rect x="133.15" y="275.25" width="5.10" height="5.10" fill="none" stroke="#ff0000" stroke-width="1.25"/>
<rect x="159.35" y="294.45" width="5.10" height="5.10" fill="none" stroke="#ff0000" stroke-width="1.25"/>
<rect x="185.55" y="309.05" width="5.10" height="5.10" fill="none" stroke="#ff0000" stroke-width="1.25"/>
<rect x="211.85" y="323.65" width="5.10" height="5.10" fill="none" stroke="#ff0000" stroke-width="1.25"/>
<rect x="238.15" y="336.05" width="5.10" height="5.10" fill="none" stroke="#ff0000" stroke-width="1.25"/>
<rect x="264.45" y="346.55" width="5.10" height="5.10" fill="none" stroke="#ff0000" stroke-width="1.25"/>
<rect x="290.55" y="354.75" width="5.10" height="5.10" fill="none" stroke="#ff0000" stroke-width="1.25"/>
<rect x="316.85" y="361.15" width="5.10" height="5.10" fill="none" stroke="#ff0000" stroke-width="1.25"/>
<rect x="343.05" y="365.75" width="5.10" height="5.10" fill="none" stroke="#ff0000" stroke-width="1.25"/>
<rect x="369.35" y="369.45" width="5.10" height="5.10" fill="none" stroke="#ff0000" stroke-width="1.25"/>
<path d="M57.20 339.10 L58.20 340.37 L59.20 341.61 L59.22 341.63 M62.18 345.16 L62.20 345.19 L63.20 346.32 L64.20 347.42 L64.65 347.91 M67.81 351.25 L68.20 351.66 L69.20 352.70 L70.20 353.75 L70.37 353.93 M73.57 357.23 L74.20 357.85 L75.20 358.80 L76.20 359.71 L76.26 359.77 M79.76 362.75 L80.20 363.10 L81.20 363.90 L82.20 364.68 L82.67 365.04 M86.38 367.75 L87.20 368.30 L88.20 368.95 L89.20 369.59 L89.48 369.77 M93.45 372.10 L94.20 372.50 L95.20 373.00 L96.20 373.48 L96.76 373.74 M101.00 375.53 L101.20 375.60 L102.20 375.94 L103.20 376.24 L104.20 376.54 L104.53 376.63 M109.00 377.72 L109.20 377.77 L110.20 377.97 L111.20 378.16 L112.20 378.34 L112.63 378.42 M117.18 379.14 L117.20 379.14 L118.20 379.28 L119.20 379.41 L120.20 379.54 L120.85 379.61 M125.42 380.07 L126.20 380.14 L127.20 380.23 L128.20 380.31 L129.11 380.39 M133.70 380.69 L134.20 380.72 L135.20 380.77 L136.20 380.81 L137.20 380.85 L137.39 380.86 M141.99 381.04 L142.20 381.05 L143.20 381.08 L144.20 381.11 L145.20 381.14 L145.69 381.15 M150.29 381.20 L151.20 381.20 L152.20 381.20 L153.20 381.20 L153.99 381.20 M158.59 381.20 L159.20 381.20 L160.20 381.20 L161.20 381.20 L162.20 381.20 L162.29 381.20 M166.89 381.20 L167.20 381.20 L168.20 381.20 L169.20 381.20 L170.20 381.20 L170.59 381.20 M175.19 381.20 L175.20 381.20 L176.20 381.20 L177.20 381.20 L178.20 381.20 L178.89 381.20 M183.49 381.20 L184.20 381.20 L185.20 381.20 L186.20 381.20 L187.19 381.20 M191.79 381.20 L192.20 381.20 L193.20 381.20 L194.20 381.20 L195.20 381.20 L195.49 381.20 M200.09 381.20 L200.20 381.20 L201.20 381.20 L202.20 381.20 L203.20 381.20 L203.79 381.20 M208.39 381.20 L209.20 381.20 L210.20 381.20 L211.20 381.20 L212.09 381.20 M216.69 381.20 L217.20 381.20 L218.20 381.20 L219.20 381.20 L220.20 381.20 L220.39 381.20 M224.99 381.20 L225.20 381.20 L226.20 381.20 L227.20 381.20 L228.20 381.20 L228.69 381.20 M233.29 381.20 L234.20 381.20 L235.20 381.20 L236.20 381.20 L236.99 381.20 M241.59 381.20 L242.20 381.20 L243.20 381.20 L244.20 381.20 L245.20 381.20 L245.29 381.20 M249.89 381.20 L250.20 381.20 L251.20 381.20 L252.20 381.20 L253.20 381.20 L253.59 381.20 M258.19 381.20 L258.20 381.20 L259.20 381.20 L260.20 381.20 L261.20 381.20 L261.89 381.20 M266.49 381.20 L267.20 381.20 L268.20 381.20 L269.20 381.20 L270.19 381.20 M274.79 381.20 L275.20 381.20 L276.20 381.20 L277.20 381.20 L278.20 381.20 L278.49 381.20 M283.09 381.20 L283.20 381.20 L284.20 381.20 L285.20 381.20 L286.20 381.20 L286.79 381.20 M291.39 381.20 L292.20 381.20 L293.20 381.20 L294.20 381.20 L295.09 381.20 M299.69 381.20 L300.20 381.20 L301.20 381.20 L302.20 381.20 L303.20 381.20 L303.39 381.20 M307.99 381.20 L308.20 381.20 L309.20 381.20 L310.20 381.20 L311.20 381.20 L311.69 381.20 M316.29 381.20 L317.20 381.20 L318.20 381.20 L319.20 381.20 L319.99 381.20 M324.59 381.20 L325.20 381.20 L326.20 381.20 L327.20 381.20 L328.20 381.20 L328.29 381.20 M332.89 381.20 L333.20 381.20 L334.20 381.20 L335.20 381.20 L336.20 381.20 L336.59 381.20 M341.19 381.20 L341.20 381.20 L342.20 381.20 L343.20 381.20 L344.20 381.20 L344.89 381.20 M349.49 381.20 L350.20 381.20 L351.20 381.20 L352.20 381.20 L353.19 381.20 M357.79 381.20 L358.20 381.20 L359.20 381.20 L360.20 381.20 L361.20 381.20 L361.49 381.20 M366.09 381.20 L366.20 381.20 L367.20 381.20 L368.20 381.20 L369.20 381.20 L369.79 381.20 M374.39 381.20 L375.20 381.20 L376.20 381.20 L377.20 381.20 L378.09 381.20 M382.69 381.20 L383.20 381.20 L384.20 381.20 L385.20 381.20 L385.50 381.20" stroke="#0000ff" stroke-width="1.90" fill="none" clip-path="url(#c2)"/>
<path d="M57.20 339.10 L58.20 339.16 L59.20 339.24 L60.20 339.34 L61.20 339.46 L62.20 339.59 L63.20 339.73 L64.20 339.89 L65.20 340.08 L66.20 340.29 L67.20 340.54 L68.20 340.82 L69.20 341.13 L70.20 341.52 L71.20 342.01 L72.20 342.58 L73.20 343.20 L74.20 343.87 L75.20 344.56 L76.20 345.26 L77.20 345.95 L78.20 346.69 L79.20 347.47 L80.20 348.29 L81.20 349.12 L82.20 349.97 L83.20 350.82 L84.20 351.67 L85.20 352.56 L86.20 353.47 L87.20 354.39 L88.20 355.31 L89.20 356.21 L90.20 357.08 L91.20 357.92 L92.20 358.71 L93.20 359.47 L94.20 360.22 L95.20 360.94 L96.20 361.65 L97.20 362.33 L98.20 363.01 L99.20 363.67 L100.20 364.32 L101.20 364.95 L102.20 365.58 L103.20 366.19 L104.20 366.79 L105.20 367.38 L106.20 367.96 L107.20 368.52 L108.20 369.07 L109.20 369.60 L110.20 370.12 L111.20 370.64 L112.20 371.15 L113.20 371.67 L114.20 372.18 L115.20 372.67 L116.20 373.15 L117.20 373.62 L118.20 374.06 L119.20 374.48 L120.20 374.87 L121.20 375.23 L122.20 375.56 L123.20 375.87 L124.20 376.17 L125.20 376.46 L126.20 376.74 L127.20 377.00 L128.20 377.26 L129.20 377.50 L130.20 377.73 L131.20 377.95 L132.20 378.16 L133.20 378.36 L134.20 378.54 L135.20 378.72 L136.20 378.88 L137.20 379.04 L138.20 379.19 L139.20 379.33 L140.20 379.47 L141.20 379.60 L142.20 379.73 L143.20 379.85 L144.20 379.96 L145.20 380.06 L146.20 380.15 L147.20 380.24 L148.20 380.31 L149.20 380.39 L150.20 380.45 L151.20 380.52 L152.20 380.59 L153.20 380.65 L154.20 380.71 L155.20 380.76 L156.20 380.81 L157.20 380.86 L158.20 380.90 L159.20 380.94 L160.20 380.97 L161.20 380.99 L162.20 381.00 L163.20 381.02 L164.20 381.03 L165.20 381.04 L166.20 381.06 L167.20 381.07 L168.20 381.08 L169.20 381.09 L170.20 381.10 L171.20 381.11 L172.20 381.12 L173.20 381.13 L174.20 381.14 L175.20 381.15 L176.20 381.16 L177.20 381.16 L178.20 381.17 L179.20 381.18 L180.20 381.18 L181.20 381.18 L182.20 381.19 L183.20 381.19 L184.20 381.20 L185.20 381.20 L186.20 381.20 L187.20 381.20 L188.20 381.20 L189.20 381.20 L190.20 381.20 L191.20 381.20 L192.20 381.20 L193.20 381.20 L194.20 381.20 L195.20 381.20 L196.20 381.20 L197.20 381.20 L198.20 381.20 L199.20 381.20 L200.20 381.20 L201.20 381.20 L202.20 381.20 L203.20 381.20 L204.20 381.20 L205.20 381.20 L206.20 381.20 L207.20 381.20 L208.20 381.20 L209.20 381.20 L210.20 381.20 L211.20 381.20 L212.20 381.20 L213.20 381.20 L214.20 381.20 L215.20 381.20 L216.20 381.20 L217.20 381.20 L218.20 381.20 L219.20 381.20 L220.20 381.20 L221.20 381.20 L222.20 381.20 L223.20 381.20 L224.20 381.20 L225.20 381.20 L226.20 381.20 L227.20 381.20 L228.20 381.20 L229.20 381.20 L230.20 381.20 L231.20 381.20 L232.20 381.20 L233.20 381.20 L234.20 381.20 L235.20 381.20 L236.20 381.20 L237.20 381.20 L238.20 381.20 L239.20 381.20 L240.20 381.20 L241.20 381.20 L242.20 381.20 L243.20 381.20 L244.20 381.20 L245.20 381.20 L246.20 381.20 L247.20 381.20 L248.20 381.20 L249.20 381.20 L250.20 381.20 L251.20 381.20 L252.20 381.20 L253.20 381.20 L254.20 381.20 L255.20 381.20 L256.20 381.20 L257.20 381.20 L258.20 381.20 L259.20 381.20 L260.20 381.20 L261.20 381.20 L262.20 381.20 L263.20 381.20 L264.20 381.20 L265.20 381.20 L266.20 381.20 L267.20 381.20 L268.20 381.20 L269.20 381.20 L270.20 381.20 L271.20 381.20 L272.20 381.20 L273.20 381.20 L274.20 381.20 L275.20 381.20 L276.20 381.20 L277.20 381.20 L278.20 381.20 L279.20 381.20 L280.20 381.20 L281.20 381.20 L282.20 381.20 L283.20 381.20 L284.20 381.20 L285.20 381.20 L286.20 381.20 L287.20 381.20 L288.20 381.20 L289.20 381.20 L290.20 381.20 L291.20 381.20 L292.20 381.20 L293.20 381.20 L294.20 381.20 L295.20 381.20 L296.20 381.20 L297.20 381.20 L298.20 381.20 L299.20 381.20 L300.20 381.20 L301.20 381.20 L302.20 381.20 L303.20 381.20 L304.20 381.20 L305.20 381.20 L306.20 381.20 L307.20 381.20 L308.20 381.20 L309.20 381.20 L310.20 381.20 L311.20 381.20 L312.20 381.20 L313.20 381.20 L314.20 381.20 L315.20 381.20 L316.20 381.20 L317.20 381.20 L318.20 381.20 L319.20 381.20 L320.20 381.20 L321.20 381.20 L322.20 381.20 L323.20 381.20 L324.20 381.20 L325.20 381.20 L326.20 381.20 L327.20 381.20 L328.20 381.20 L329.20 381.20 L330.20 381.20 L331.20 381.20 L332.20 381.20 L333.20 381.20 L334.20 381.20 L335.20 381.20 L336.20 381.20 L337.20 381.20 L338.20 381.20 L339.20 381.20 L340.20 381.20 L341.20 381.20 L342.20 381.20 L343.20 381.20 L344.20 381.20 L345.20 381.20 L346.20 381.20 L347.20 381.20 L348.20 381.20 L349.20 381.20 L350.20 381.20 L351.20 381.20 L352.20 381.20 L353.20 381.20 L354.20 381.20 L355.20 381.20 L356.20 381.20 L357.20 381.20 L358.20 381.20 L359.20 381.20 L360.20 381.20 L361.20 381.20 L362.20 381.20 L363.20 381.20 L364.20 381.20 L365.20 381.20 L366.20 381.20 L367.20 381.20 L368.20 381.20 L369.20 381.20 L370.20 381.20 L371.20 381.20 L372.20 381.20 L373.20 381.20 L374.20 381.20 L375.20 381.20 L376.20 381.20 L377.20 381.20 L378.20 381.20 L379.20 381.20 L380.20 381.20 L381.20 381.20 L382.20 381.20 L383.20 381.20 L384.20 381.20 L385.00 381.20" stroke="#0000ff" stroke-width="1.45" fill="none" stroke-linejoin="round" clip-path="url(#c2)"/>
<rect x="54.65" y="336.55" width="5.10" height="5.10" fill="none" stroke="#0000ff" stroke-width="1.25"/>
<rect x="80.75" y="348.35" width="5.10" height="5.10" fill="none" stroke="#0000ff" stroke-width="1.25"/>
<rect x="106.85" y="367.15" width="5.10" height="5.10" fill="none" stroke="#0000ff" stroke-width="1.25"/>
<rect x="133.15" y="376.25" width="5.10" height="5.10" fill="none" stroke="#0000ff" stroke-width="1.25"/>
<rect x="159.35" y="378.45" width="5.10" height="5.10" fill="none" stroke="#0000ff" stroke-width="1.25"/>
<rect x="185.55" y="378.65" width="5.10" height="5.10" fill="none" stroke="#0000ff" stroke-width="1.25"/>
<rect x="211.85" y="378.65" width="5.10" height="5.10" fill="none" stroke="#0000ff" stroke-width="1.25"/>
<rect x="238.15" y="378.65" width="5.10" height="5.10" fill="none" stroke="#0000ff" stroke-width="1.25"/>
<rect x="264.45" y="378.65" width="5.10" height="5.10" fill="none" stroke="#0000ff" stroke-width="1.25"/>
<rect x="290.55" y="378.65" width="5.10" height="5.10" fill="none" stroke="#0000ff" stroke-width="1.25"/>
<rect x="316.85" y="378.65" width="5.10" height="5.10" fill="none" stroke="#0000ff" stroke-width="1.25"/>
<rect x="343.05" y="378.65" width="5.10" height="5.10" fill="none" stroke="#0000ff" stroke-width="1.25"/>
<rect x="369.35" y="378.65" width="5.10" height="5.10" fill="none" stroke="#0000ff" stroke-width="1.25"/>
<path d="M57.20 381.60 L58.20 380.74 L59.20 379.83 L59.56 379.47 M62.75 376.15 L63.20 375.63 L64.20 374.40 L65.07 373.28 M67.89 369.64 L68.20 369.25 L69.20 368.02 L70.20 366.81 L70.23 366.78 M73.20 363.26 L73.20 363.26 L74.20 362.12 L75.20 360.99 L75.65 360.49 M78.78 357.12 L79.20 356.69 L80.20 355.71 L81.20 354.76 L81.43 354.54 M84.87 351.48 L85.20 351.20 L86.20 350.42 L87.20 349.69 L87.82 349.25 M91.68 346.76 L92.20 346.46 L93.20 345.95 L94.20 345.47 L94.99 345.10 M99.26 343.40 L100.20 343.14 L101.20 342.92 L102.20 342.70 L102.86 342.57 M107.40 341.84 L108.20 341.76 L109.20 341.71 L110.20 341.70 L111.10 341.71 M115.69 341.90 L116.20 341.93 L117.20 341.99 L118.20 342.08 L119.20 342.20 L119.37 342.23 M123.87 343.17 L124.20 343.26 L125.20 343.51 L126.20 343.77 L127.20 344.03 L127.46 344.09 M131.90 345.30 L132.20 345.39 L133.20 345.70 L134.20 346.01 L135.20 346.33 L135.43 346.40 M139.82 347.76 L140.20 347.87 L141.20 348.16 L142.20 348.44 L143.20 348.72 L143.38 348.77 M147.82 350.00 L148.20 350.10 L149.20 350.38 L150.20 350.66 L151.20 350.94 L151.38 350.99 M155.81 352.24 L156.20 352.35 L157.20 352.63 L158.20 352.91 L159.20 353.19 L159.37 353.24 M163.81 354.44 L164.20 354.54 L165.20 354.81 L166.20 355.07 L167.20 355.34 L167.39 355.39 M171.84 356.53 L172.20 356.62 L173.20 356.86 L174.20 357.11 L175.20 357.35 L175.44 357.40 M179.92 358.43 L180.20 358.49 L181.20 358.71 L182.20 358.93 L183.20 359.15 L183.54 359.22 M188.03 360.19 L188.20 360.22 L189.20 360.44 L190.20 360.65 L191.20 360.87 L191.65 360.97 M196.15 361.95 L196.20 361.96 L197.20 362.18 L198.20 362.39 L199.20 362.61 L199.76 362.73 M204.26 363.68 L205.20 363.87 L206.20 364.07 L207.20 364.27 L207.89 364.40 M212.41 365.24 L213.20 365.38 L214.20 365.55 L215.20 365.72 L216.06 365.86 M220.61 366.57 L221.20 366.66 L222.20 366.81 L223.20 366.96 L224.20 367.10 L224.27 367.11 M228.82 367.75 L229.20 367.80 L230.20 367.94 L231.20 368.07 L232.20 368.20 L232.49 368.24 M237.05 368.82 L237.20 368.84 L238.20 368.96 L239.20 369.08 L240.20 369.20 L240.73 369.27 M245.30 369.80 L246.20 369.91 L247.20 370.02 L248.20 370.13 L248.97 370.22 M253.55 370.71 L254.20 370.78 L255.20 370.88 L256.20 370.99 L257.20 371.09 L257.23 371.09 M261.80 371.53 L262.20 371.57 L263.20 371.66 L264.20 371.75 L265.20 371.84 L265.49 371.87 M270.07 372.25 L270.20 372.27 L271.20 372.34 L272.20 372.42 L273.20 372.50 L273.76 372.54 M278.35 372.88 L279.20 372.94 L280.20 373.01 L281.20 373.08 L282.04 373.14 M286.63 373.45 L287.20 373.49 L288.20 373.56 L289.20 373.63 L290.20 373.70 L290.32 373.71 M294.91 374.03 L295.20 374.05 L296.20 374.12 L297.20 374.19 L298.20 374.26 L298.60 374.29 M303.19 374.61 L303.20 374.61 L304.20 374.68 L305.20 374.75 L306.20 374.82 L306.88 374.87 M311.47 375.18 L312.20 375.23 L313.20 375.29 L314.20 375.36 L315.16 375.42 M319.75 375.72 L320.20 375.74 L321.20 375.81 L322.20 375.87 L323.20 375.93 L323.45 375.94 M328.04 376.22 L328.20 376.23 L329.20 376.29 L330.20 376.35 L331.20 376.41 L331.73 376.44 M336.32 376.70 L337.20 376.75 L338.20 376.81 L339.20 376.86 L340.02 376.91 M344.61 377.15 L345.20 377.18 L346.20 377.23 L347.20 377.28 L348.20 377.33 L348.31 377.34 M352.90 377.57 L353.20 377.58 L354.20 377.63 L355.20 377.68 L356.20 377.73 L356.60 377.75 M361.19 377.97 L361.20 377.97 L362.20 378.01 L363.20 378.05 L364.20 378.10 L364.89 378.13 M369.48 378.31 L370.20 378.34 L371.20 378.38 L372.20 378.41 L373.18 378.44 M377.78 378.59 L378.20 378.60 L379.20 378.63 L380.20 378.66 L381.20 378.69 L381.48 378.70" stroke="#006400" stroke-width="1.90" fill="none" clip-path="url(#c2)"/>
<path d="M57.20 381.60 L58.20 381.58 L59.20 381.54 L60.20 381.48 L61.20 381.41 L62.20 381.33 L63.20 381.24 L64.20 381.13 L65.20 381.02 L66.20 380.90 L67.20 380.77 L68.20 380.64 L69.20 380.51 L70.20 380.37 L71.20 380.22 L72.20 380.05 L73.20 379.86 L74.20 379.65 L75.20 379.42 L76.20 379.18 L77.20 378.91 L78.20 378.64 L79.20 378.34 L80.20 378.04 L81.20 377.72 L82.20 377.38 L83.20 377.04 L84.20 376.66 L85.20 376.23 L86.20 375.76 L87.20 375.25 L88.20 374.70 L89.20 374.12 L90.20 373.51 L91.20 372.88 L92.20 372.23 L93.20 371.49 L94.20 370.68 L95.20 369.81 L96.20 368.93 L97.20 368.05 L98.20 367.23 L99.20 366.47 L100.20 365.79 L101.20 365.15 L102.20 364.54 L103.20 363.95 L104.20 363.37 L105.20 362.81 L106.20 362.23 L107.20 361.65 L108.20 361.06 L109.20 360.43 L110.20 359.76 L111.20 359.05 L112.20 358.33 L113.20 357.60 L114.20 356.90 L115.20 356.24 L116.20 355.65 L117.20 355.06 L118.20 354.49 L119.20 353.95 L120.20 353.44 L121.20 352.97 L122.20 352.55 L123.20 352.18 L124.20 351.82 L125.20 351.48 L126.20 351.15 L127.20 350.85 L128.20 350.57 L129.20 350.32 L130.20 350.11 L131.20 349.94 L132.20 349.81 L133.20 349.70 L134.20 349.61 L135.20 349.53 L136.20 349.47 L137.20 349.40 L138.20 349.34 L139.20 349.28 L140.20 349.24 L141.20 349.21 L142.20 349.20 L143.20 349.23 L144.20 349.30 L145.20 349.39 L146.20 349.51 L147.20 349.64 L148.20 349.78 L149.20 349.91 L150.20 350.07 L151.20 350.26 L152.20 350.47 L153.20 350.70 L154.20 350.96 L155.20 351.23 L156.20 351.51 L157.20 351.80 L158.20 352.10 L159.20 352.40 L160.20 352.70 L161.20 353.00 L162.20 353.29 L163.20 353.58 L164.20 353.89 L165.20 354.21 L166.20 354.54 L167.20 354.87 L168.20 355.21 L169.20 355.54 L170.20 355.88 L171.20 356.21 L172.20 356.54 L173.20 356.85 L174.20 357.16 L175.20 357.46 L176.20 357.75 L177.20 358.03 L178.20 358.31 L179.20 358.58 L180.20 358.85 L181.20 359.12 L182.20 359.38 L183.20 359.64 L184.20 359.90 L185.20 360.16 L186.20 360.41 L187.20 360.67 L188.20 360.93 L189.20 361.18 L190.20 361.44 L191.20 361.70 L192.20 361.96 L193.20 362.22 L194.20 362.48 L195.20 362.74 L196.20 363.00 L197.20 363.26 L198.20 363.51 L199.20 363.77 L200.20 364.02 L201.20 364.28 L202.20 364.53 L203.20 364.78 L204.20 365.02 L205.20 365.26 L206.20 365.50 L207.20 365.74 L208.20 365.97 L209.20 366.20 L210.20 366.42 L211.20 366.64 L212.20 366.85 L213.20 367.06 L214.20 367.26 L215.20 367.46 L216.20 367.65 L217.20 367.85 L218.20 368.04 L219.20 368.23 L220.20 368.42 L221.20 368.61 L222.20 368.79 L223.20 368.97 L224.20 369.15 L225.20 369.33 L226.20 369.50 L227.20 369.67 L228.20 369.84 L229.20 370.01 L230.20 370.17 L231.20 370.33 L232.20 370.49 L233.20 370.65 L234.20 370.80 L235.20 370.95 L236.20 371.09 L237.20 371.23 L238.20 371.37 L239.20 371.50 L240.20 371.64 L241.20 371.76 L242.20 371.89 L243.20 372.01 L244.20 372.13 L245.20 372.25 L246.20 372.36 L247.20 372.47 L248.20 372.58 L249.20 372.69 L250.20 372.80 L251.20 372.90 L252.20 373.01 L253.20 373.11 L254.20 373.21 L255.20 373.31 L256.20 373.40 L257.20 373.50 L258.20 373.59 L259.20 373.69 L260.20 373.78 L261.20 373.87 L262.20 373.96 L263.20 374.06 L264.20 374.15 L265.20 374.24 L266.20 374.33 L267.20 374.42 L268.20 374.51 L269.20 374.60 L270.20 374.69 L271.20 374.77 L272.20 374.86 L273.20 374.95 L274.20 375.04 L275.20 375.12 L276.20 375.21 L277.20 375.29 L278.20 375.37 L279.20 375.46 L280.20 375.54 L281.20 375.62 L282.20 375.70 L283.20 375.78 L284.20 375.86 L285.20 375.93 L286.20 376.01 L287.20 376.08 L288.20 376.16 L289.20 376.23 L290.20 376.30 L291.20 376.37 L292.20 376.44 L293.20 376.51 L294.20 376.57 L295.20 376.64 L296.20 376.70 L297.20 376.77 L298.20 376.83 L299.20 376.90 L300.20 376.96 L301.20 377.02 L302.20 377.08 L303.20 377.14 L304.20 377.20 L305.20 377.26 L306.20 377.32 L307.20 377.37 L308.20 377.43 L309.20 377.49 L310.20 377.54 L311.20 377.59 L312.20 377.65 L313.20 377.70 L314.20 377.75 L315.20 377.80 L316.20 377.85 L317.20 377.90 L318.20 377.94 L319.20 377.99 L320.20 378.04 L321.20 378.08 L322.20 378.12 L323.20 378.17 L324.20 378.21 L325.20 378.25 L326.20 378.29 L327.20 378.33 L328.20 378.37 L329.20 378.41 L330.20 378.45 L331.20 378.48 L332.20 378.52 L333.20 378.56 L334.20 378.59 L335.20 378.63 L336.20 378.67 L337.20 378.70 L338.20 378.74 L339.20 378.77 L340.20 378.81 L341.20 378.84 L342.20 378.88 L343.20 378.91 L344.20 378.95 L345.20 378.99 L346.20 379.02 L347.20 379.06 L348.20 379.09 L349.20 379.13 L350.20 379.17 L351.20 379.21 L352.20 379.24 L353.20 379.28 L354.20 379.32 L355.20 379.35 L356.20 379.39 L357.20 379.42 L358.20 379.46 L359.20 379.50 L360.20 379.53 L361.20 379.57 L362.20 379.60 L363.20 379.63 L364.20 379.67 L365.20 379.70 L366.20 379.73 L367.20 379.76 L368.20 379.79 L369.20 379.82 L370.20 379.85 L371.20 379.88 L372.20 379.91 L373.20 379.93 L374.20 379.96 L375.20 379.99 L376.20 380.01 L377.20 380.03 L378.20 380.06 L379.20 380.08 L380.20 380.10 L381.20 380.12 L382.20 380.14 L383.20 380.16 L384.20 380.18 L385.00 380.20" stroke="#006400" stroke-width="1.45" fill="none" stroke-linejoin="round" clip-path="url(#c2)"/>
<rect x="54.65" y="379.05" width="5.10" height="5.10" fill="none" stroke="#006400" stroke-width="1.25"/>
<rect x="80.75" y="374.45" width="5.10" height="5.10" fill="none" stroke="#006400" stroke-width="1.25"/>
<rect x="106.85" y="357.75" width="5.10" height="5.10" fill="none" stroke="#006400" stroke-width="1.25"/>
<rect x="133.15" y="347.15" width="5.10" height="5.10" fill="none" stroke="#006400" stroke-width="1.25"/>
<rect x="159.35" y="350.65" width="5.10" height="5.10" fill="none" stroke="#006400" stroke-width="1.25"/>
<rect x="185.55" y="358.35" width="5.10" height="5.10" fill="none" stroke="#006400" stroke-width="1.25"/>
<rect x="211.85" y="364.75" width="5.10" height="5.10" fill="none" stroke="#006400" stroke-width="1.25"/>
<rect x="238.15" y="369.15" width="5.10" height="5.10" fill="none" stroke="#006400" stroke-width="1.25"/>
<rect x="264.45" y="371.85" width="5.10" height="5.10" fill="none" stroke="#006400" stroke-width="1.25"/>
<rect x="290.55" y="373.95" width="5.10" height="5.10" fill="none" stroke="#006400" stroke-width="1.25"/>
<rect x="316.85" y="375.45" width="5.10" height="5.10" fill="none" stroke="#006400" stroke-width="1.25"/>
<rect x="343.05" y="376.45" width="5.10" height="5.10" fill="none" stroke="#006400" stroke-width="1.25"/>
<rect x="369.35" y="377.35" width="5.10" height="5.10" fill="none" stroke="#006400" stroke-width="1.25"/>
<path d="M57.20 381.60 L58.20 380.68 L59.20 379.79 L59.23 379.77 M62.78 376.85 L63.20 376.53 L64.20 375.80 L65.20 375.11 L65.80 374.71 M69.66 372.21 L70.20 371.86 L71.20 371.20 L72.20 370.54 L72.75 370.18 M76.59 367.65 L77.20 367.25 L78.20 366.60 L79.20 365.96 L79.70 365.64 M83.59 363.19 L84.20 362.80 L85.20 362.17 L86.20 361.54 L86.72 361.22 M90.53 358.82 L91.20 358.39 L92.20 357.74 L93.20 357.08 L93.51 356.88 M97.17 354.41 L97.20 354.39 L98.20 353.72 L99.20 353.06 L100.14 352.46 M103.88 350.09 L104.20 349.89 L105.20 349.26 L106.20 348.64 L106.89 348.21 M110.65 345.89 L111.20 345.55 L112.20 344.94 L113.20 344.32 L113.67 344.02 M117.38 341.62 L118.20 341.06 L119.20 340.37 L120.20 339.68 L120.31 339.60 M123.95 337.10 L124.20 336.93 L125.20 336.26 L126.20 335.59 L126.90 335.12 M130.60 332.70 L131.20 332.31 L132.20 331.69 L133.20 331.08 L133.62 330.83 M137.44 328.60 L138.20 328.16 L139.20 327.59 L140.20 327.01 L140.52 326.83 M144.35 324.64 L145.20 324.16 L146.20 323.60 L147.20 323.03 L147.51 322.86 M151.50 320.61 L152.20 320.22 L153.20 319.66 L154.20 319.10 L154.72 318.82 M158.76 316.67 L159.20 316.45 L160.20 315.93 L161.20 315.38 L162.00 314.92 M165.88 312.48 L166.20 312.27 L167.20 311.60 L168.20 310.91 L168.92 310.41 M172.61 307.70 L173.20 307.27 L174.20 306.54 L175.20 305.84 L175.61 305.56 M179.40 302.99 L180.20 302.46 L181.20 301.80 L182.20 301.14 L182.48 300.96 M186.33 298.49 L187.20 297.95 L188.20 297.34 L189.20 296.73 L189.47 296.57 M193.41 294.23 L194.20 293.78 L195.20 293.21 L196.20 292.64 L196.62 292.41 M200.66 290.27 L201.20 289.99 L202.20 289.48 L203.20 288.96 L203.93 288.57 M207.93 286.34 L208.20 286.19 L209.20 285.61 L210.20 285.04 L211.13 284.51 M215.10 282.24 L215.20 282.19 L216.20 281.61 L217.20 281.04 L218.20 280.47 L218.30 280.41 M222.32 278.22 L223.20 277.76 L224.20 277.26 L225.20 276.76 L225.61 276.56 M229.72 274.55 L230.20 274.32 L231.20 273.84 L232.20 273.36 L233.05 272.95 M237.20 271.03 L238.20 270.58 L239.20 270.14 L240.20 269.70 L240.57 269.54 M244.77 267.70 L245.20 267.51 L246.20 267.06 L247.20 266.61 L248.12 266.19 M252.29 264.28 L253.20 263.87 L254.20 263.42 L255.20 262.98 L255.65 262.78 M259.87 261.00 L260.20 260.87 L261.20 260.46 L262.20 260.06 L263.20 259.67 L263.29 259.64 M267.61 258.10 L268.20 257.90 L269.20 257.59 L270.20 257.29 L271.12 257.01 M275.51 255.68 L276.20 255.46 L277.20 255.15 L278.20 254.84 L279.02 254.58 M283.39 253.21 L284.20 252.95 L285.20 252.63 L286.20 252.31 L286.90 252.09 M291.26 250.68 L292.20 250.37 L293.20 250.04 L294.20 249.70 L294.75 249.52 M299.11 248.10 L299.20 248.07 L300.20 247.76 L301.20 247.46 L302.20 247.17 L302.64 247.04 M307.04 245.79 L307.20 245.75 L308.20 245.47 L309.20 245.20 L310.20 244.92 L310.60 244.82 M315.02 243.65 L315.20 243.60 L316.20 243.35 L317.20 243.10 L318.20 242.86 L318.60 242.76 M323.02 241.73 L323.20 241.69 L324.20 241.45 L325.20 241.20 L326.20 240.95 L326.54 240.86 M330.91 239.74 L331.20 239.67 L332.20 239.42 L333.20 239.18 L334.20 238.94 L334.43 238.88 M338.82 237.87 L339.20 237.79 L340.20 237.56 L341.20 237.34 L342.20 237.13 L342.36 237.09 M346.78 236.16 L347.20 236.08 L348.20 235.88 L349.20 235.70 L350.20 235.51 L350.34 235.49 M354.78 234.70 L355.20 234.63 L356.20 234.45 L357.20 234.27 L358.20 234.09 L358.35 234.06 M362.78 233.27 L363.20 233.19 L364.20 233.00 L365.20 232.80 L366.20 232.60 L366.37 232.56 M370.87 231.59 L371.20 231.53 L372.20 231.32 L373.20 231.12 L374.20 230.93 L374.50 230.87 M379.03 230.04 L379.20 230.01 L380.20 229.83 L381.20 229.67 L382.20 229.50 L382.67 229.43" stroke="#ffa500" stroke-width="1.90" fill="none" clip-path="url(#c2)"/>
<path d="M57.20 381.60 L58.20 381.52 L59.20 381.44 L60.20 381.34 L61.20 381.24 L62.20 381.13 L63.20 381.01 L64.20 380.89 L65.20 380.76 L66.20 380.62 L67.20 380.48 L68.20 380.33 L69.20 380.18 L70.20 380.03 L71.20 379.87 L72.20 379.70 L73.20 379.52 L74.20 379.34 L75.20 379.14 L76.20 378.94 L77.20 378.72 L78.20 378.49 L79.20 378.25 L80.20 377.99 L81.20 377.72 L82.20 377.43 L83.20 377.13 L84.20 376.79 L85.20 376.40 L86.20 375.95 L87.20 375.47 L88.20 374.95 L89.20 374.40 L90.20 373.83 L91.20 373.24 L92.20 372.65 L93.20 372.06 L94.20 371.45 L95.20 370.80 L96.20 370.12 L97.20 369.42 L98.20 368.71 L99.20 368.00 L100.20 367.31 L101.20 366.63 L102.20 365.98 L103.20 365.33 L104.20 364.69 L105.20 364.04 L106.20 363.39 L107.20 362.73 L108.20 362.05 L109.20 361.34 L110.20 360.61 L111.20 359.85 L112.20 359.08 L113.20 358.28 L114.20 357.47 L115.20 356.64 L116.20 355.81 L117.20 354.98 L118.20 354.14 L119.20 353.30 L120.20 352.47 L121.20 351.65 L122.20 350.84 L123.20 350.03 L124.20 349.23 L125.20 348.43 L126.20 347.63 L127.20 346.83 L128.20 346.03 L129.20 345.23 L130.20 344.43 L131.20 343.63 L132.20 342.83 L133.20 342.02 L134.20 341.22 L135.20 340.41 L136.20 339.59 L137.20 338.78 L138.20 337.96 L139.20 337.13 L140.20 336.31 L141.20 335.48 L142.20 334.64 L143.20 333.81 L144.20 332.98 L145.20 332.14 L146.20 331.30 L147.20 330.47 L148.20 329.63 L149.20 328.79 L150.20 327.96 L151.20 327.13 L152.20 326.29 L153.20 325.46 L154.20 324.64 L155.20 323.81 L156.20 322.99 L157.20 322.18 L158.20 321.36 L159.20 320.56 L160.20 319.75 L161.20 318.95 L162.20 318.16 L163.20 317.37 L164.20 316.59 L165.20 315.80 L166.20 315.02 L167.20 314.24 L168.20 313.47 L169.20 312.69 L170.20 311.92 L171.20 311.15 L172.20 310.38 L173.20 309.62 L174.20 308.85 L175.20 308.09 L176.20 307.34 L177.20 306.58 L178.20 305.83 L179.20 305.08 L180.20 304.33 L181.20 303.58 L182.20 302.84 L183.20 302.10 L184.20 301.36 L185.20 300.62 L186.20 299.89 L187.20 299.16 L188.20 298.43 L189.20 297.70 L190.20 296.97 L191.20 296.24 L192.20 295.51 L193.20 294.78 L194.20 294.06 L195.20 293.33 L196.20 292.61 L197.20 291.88 L198.20 291.16 L199.20 290.45 L200.20 289.73 L201.20 289.02 L202.20 288.31 L203.20 287.61 L204.20 286.91 L205.20 286.22 L206.20 285.53 L207.20 284.84 L208.20 284.16 L209.20 283.49 L210.20 282.82 L211.20 282.16 L212.20 281.51 L213.20 280.87 L214.20 280.23 L215.20 279.60 L216.20 278.97 L217.20 278.35 L218.20 277.73 L219.20 277.12 L220.20 276.51 L221.20 275.91 L222.20 275.31 L223.20 274.72 L224.20 274.13 L225.20 273.54 L226.20 272.96 L227.20 272.38 L228.20 271.81 L229.20 271.23 L230.20 270.67 L231.20 270.10 L232.20 269.54 L233.20 268.99 L234.20 268.43 L235.20 267.88 L236.20 267.33 L237.20 266.79 L238.20 266.25 L239.20 265.71 L240.20 265.17 L241.20 264.63 L242.20 264.10 L243.20 263.57 L244.20 263.03 L245.20 262.50 L246.20 261.98 L247.20 261.45 L248.20 260.93 L249.20 260.41 L250.20 259.89 L251.20 259.37 L252.20 258.86 L253.20 258.35 L254.20 257.85 L255.20 257.35 L256.20 256.85 L257.20 256.36 L258.20 255.87 L259.20 255.38 L260.20 254.90 L261.20 254.43 L262.20 253.96 L263.20 253.50 L264.20 253.04 L265.20 252.59 L266.20 252.15 L267.20 251.71 L268.20 251.28 L269.20 250.85 L270.20 250.43 L271.20 250.01 L272.20 249.60 L273.20 249.18 L274.20 248.78 L275.20 248.37 L276.20 247.98 L277.20 247.58 L278.20 247.19 L279.20 246.80 L280.20 246.41 L281.20 246.03 L282.20 245.65 L283.20 245.28 L284.20 244.90 L285.20 244.53 L286.20 244.17 L287.20 243.80 L288.20 243.44 L289.20 243.08 L290.20 242.72 L291.20 242.37 L292.20 242.02 L293.20 241.67 L294.20 241.32 L295.20 240.97 L296.20 240.62 L297.20 240.27 L298.20 239.93 L299.20 239.59 L300.20 239.25 L301.20 238.91 L302.20 238.57 L303.20 238.24 L304.20 237.91 L305.20 237.58 L306.20 237.25 L307.20 236.93 L308.20 236.61 L309.20 236.29 L310.20 235.98 L311.20 235.67 L312.20 235.37 L313.20 235.06 L314.20 234.77 L315.20 234.48 L316.20 234.19 L317.20 233.90 L318.20 233.63 L319.20 233.35 L320.20 233.09 L321.20 232.82 L322.20 232.56 L323.20 232.30 L324.20 232.04 L325.20 231.78 L326.20 231.53 L327.20 231.28 L328.20 231.03 L329.20 230.79 L330.20 230.55 L331.20 230.31 L332.20 230.08 L333.20 229.84 L334.20 229.61 L335.20 229.39 L336.20 229.16 L337.20 228.94 L338.20 228.72 L339.20 228.51 L340.20 228.30 L341.20 228.09 L342.20 227.88 L343.20 227.68 L344.20 227.48 L345.20 227.28 L346.20 227.08 L347.20 226.89 L348.20 226.70 L349.20 226.51 L350.20 226.33 L351.20 226.14 L352.20 225.96 L353.20 225.78 L354.20 225.60 L355.20 225.42 L356.20 225.25 L357.20 225.08 L358.20 224.91 L359.20 224.74 L360.20 224.58 L361.20 224.41 L362.20 224.25 L363.20 224.09 L364.20 223.93 L365.20 223.78 L366.20 223.63 L367.20 223.48 L368.20 223.33 L369.20 223.18 L370.20 223.04 L371.20 222.90 L372.20 222.76 L373.20 222.62 L374.20 222.49 L375.20 222.36 L376.20 222.23 L377.20 222.10 L378.20 221.98 L379.20 221.86 L380.20 221.74 L381.20 221.62 L382.20 221.51 L383.20 221.40 L384.20 221.29 L385.00 221.20" stroke="#ffa500" stroke-width="1.45" fill="none" stroke-linejoin="round" clip-path="url(#c2)"/>
<rect x="54.65" y="379.05" width="5.10" height="5.10" fill="none" stroke="#ffa500" stroke-width="1.25"/>
<rect x="80.75" y="374.55" width="5.10" height="5.10" fill="none" stroke="#ffa500" stroke-width="1.25"/>
<rect x="106.85" y="358.65" width="5.10" height="5.10" fill="none" stroke="#ffa500" stroke-width="1.25"/>
<rect x="133.15" y="337.45" width="5.10" height="5.10" fill="none" stroke="#ffa500" stroke-width="1.25"/>
<rect x="159.35" y="315.85" width="5.10" height="5.10" fill="none" stroke="#ffa500" stroke-width="1.25"/>
<rect x="185.55" y="295.95" width="5.10" height="5.10" fill="none" stroke="#ffa500" stroke-width="1.25"/>
<rect x="211.85" y="277.55" width="5.10" height="5.10" fill="none" stroke="#ffa500" stroke-width="1.25"/>
<rect x="238.15" y="262.35" width="5.10" height="5.10" fill="none" stroke="#ffa500" stroke-width="1.25"/>
<rect x="264.45" y="249.25" width="5.10" height="5.10" fill="none" stroke="#ffa500" stroke-width="1.25"/>
<rect x="290.55" y="239.15" width="5.10" height="5.10" fill="none" stroke="#ffa500" stroke-width="1.25"/>
<rect x="316.85" y="230.75" width="5.10" height="5.10" fill="none" stroke="#ffa500" stroke-width="1.25"/>
<rect x="343.05" y="224.65" width="5.10" height="5.10" fill="none" stroke="#ffa500" stroke-width="1.25"/>
<rect x="369.35" y="220.25" width="5.10" height="5.10" fill="none" stroke="#ffa500" stroke-width="1.25"/>
<path d="M57.20 381.50 L58.20 380.40 L58.83 379.73 M62.10 376.49 L62.20 376.40 L63.20 375.51 L64.20 374.67 L64.92 374.09 M68.63 371.38 L69.20 371.01 L70.20 370.38 L71.20 369.77 L71.78 369.44 M75.83 367.27 L76.20 367.09 L77.20 366.60 L78.20 366.12 L79.17 365.67 M83.40 363.86 L84.20 363.53 L85.20 363.12 L86.20 362.71 L86.83 362.46 M91.12 360.82 L91.20 360.79 L92.20 360.43 L93.20 360.08 L94.20 359.74 L94.61 359.60 M98.99 358.18 L99.20 358.11 L100.20 357.79 L101.20 357.47 L102.20 357.15 L102.51 357.04 M106.89 355.63 L107.20 355.53 L108.20 355.23 L109.20 354.94 L110.20 354.68 L110.45 354.61 M114.93 353.57 L115.20 353.51 L116.20 353.31 L117.20 353.11 L118.20 352.92 L118.56 352.85 M123.10 352.12 L123.20 352.11 L124.20 351.97 L125.20 351.84 L126.20 351.71 L126.76 351.63 M131.32 351.02 L132.20 350.90 L133.20 350.76 L134.20 350.62 L134.99 350.51 M139.54 349.87 L140.20 349.77 L141.20 349.62 L142.20 349.46 L143.20 349.30 M147.74 348.56 L148.20 348.49 L149.20 348.33 L150.20 348.17 L151.20 348.01 L151.39 347.98 M155.94 347.28 L156.20 347.24 L157.20 347.08 L158.20 346.93 L159.20 346.78 L159.60 346.72 M164.15 346.07 L164.20 346.06 L165.20 345.92 L166.20 345.79 L167.20 345.65 L167.82 345.57 M172.38 344.96 L173.20 344.85 L174.20 344.71 L175.20 344.57 L176.04 344.45 M180.59 343.76 L181.20 343.67 L182.20 343.51 L183.20 343.36 L184.20 343.22 L184.25 343.21 M188.81 342.62 L189.20 342.57 L190.20 342.46 L191.20 342.34 L192.20 342.23 L192.49 342.20 M197.06 341.71 L197.20 341.69 L198.20 341.59 L199.20 341.49 L200.20 341.39 L200.74 341.34 M205.32 340.92 L206.20 340.84 L207.20 340.75 L208.20 340.67 L209.01 340.60 M213.59 340.25 L214.20 340.21 L215.20 340.14 L216.20 340.07 L217.20 340.00 L217.29 339.99 M221.87 339.68 L222.20 339.66 L223.20 339.59 L224.20 339.53 L225.20 339.47 L225.57 339.44 M230.16 339.18 L230.20 339.18 L231.20 339.12 L232.20 339.07 L233.20 339.02 L233.85 338.99 M238.45 338.79 L239.20 338.76 L240.20 338.72 L241.20 338.69 L242.15 338.66 M246.75 338.51 L247.20 338.49 L248.20 338.46 L249.20 338.43 L250.20 338.40 L250.44 338.39 M255.04 338.27 L255.20 338.26 L256.20 338.24 L257.20 338.22 L258.20 338.19 L258.74 338.18 M263.34 338.12 L264.20 338.11 L265.20 338.10 L266.20 338.10 L267.04 338.10 M271.64 338.10 L272.20 338.10 L273.20 338.10 L274.20 338.10 L275.20 338.10 L275.34 338.10 M279.94 338.10 L280.20 338.10 L281.20 338.10 L282.20 338.10 L283.20 338.10 L283.64 338.10 M288.24 338.10 L289.20 338.10 L290.20 338.10 L291.20 338.10 L291.94 338.10 M296.54 338.10 L297.20 338.10 L298.20 338.10 L299.20 338.10 L300.20 338.10 L300.24 338.10 M304.84 338.11 L305.20 338.11 L306.20 338.11 L307.20 338.11 L308.20 338.11 L308.54 338.11 M313.14 338.11 L313.20 338.11 L314.20 338.11 L315.20 338.11 L316.20 338.11 L316.84 338.11 M321.44 338.12 L322.20 338.12 L323.20 338.12 L324.20 338.12 L325.14 338.12 M329.74 338.13 L330.20 338.13 L331.20 338.13 L332.20 338.13 L333.20 338.13 L333.44 338.14 M338.04 338.14 L338.20 338.14 L339.20 338.15 L340.20 338.15 L341.20 338.15 L341.74 338.15 M346.34 338.16 L347.20 338.16 L348.20 338.16 L349.20 338.17 L350.04 338.17 M354.64 338.18 L355.20 338.18 L356.20 338.19 L357.20 338.19 L358.20 338.19 L358.34 338.19 M362.94 338.21 L363.20 338.21 L364.20 338.21 L365.20 338.21 L366.20 338.22 L366.64 338.22 M371.24 338.24 L372.20 338.24 L373.20 338.24 L374.20 338.25 L374.94 338.25 M379.54 338.27 L380.20 338.27 L381.20 338.28 L382.20 338.28 L383.20 338.29 L383.24 338.29" stroke="#87ceeb" stroke-width="1.90" fill="none" clip-path="url(#c2)"/>
<path d="M57.20 381.50 L58.20 381.31 L59.20 381.09 L60.20 380.84 L61.20 380.56 L62.20 380.26 L63.20 379.93 L64.20 379.58 L65.20 379.19 L66.20 378.76 L67.20 378.29 L68.20 377.78 L69.20 377.24 L70.20 376.64 L71.20 375.95 L72.20 375.20 L73.20 374.41 L74.20 373.60 L75.20 372.78 L76.20 371.99 L77.20 371.22 L78.20 370.43 L79.20 369.64 L80.20 368.85 L81.20 368.06 L82.20 367.30 L83.20 366.57 L84.20 365.87 L85.20 365.20 L86.20 364.55 L87.20 363.90 L88.20 363.27 L89.20 362.64 L90.20 362.02 L91.20 361.38 L92.20 360.74 L93.20 360.07 L94.20 359.38 L95.20 358.69 L96.20 358.01 L97.20 357.37 L98.20 356.78 L99.20 356.25 L100.20 355.77 L101.20 355.30 L102.20 354.85 L103.20 354.42 L104.20 354.01 L105.20 353.62 L106.20 353.27 L107.20 352.95 L108.20 352.68 L109.20 352.44 L110.20 352.24 L111.20 352.06 L112.20 351.89 L113.20 351.73 L114.20 351.58 L115.20 351.45 L116.20 351.32 L117.20 351.20 L118.20 351.09 L119.20 350.98 L120.20 350.88 L121.20 350.78 L122.20 350.68 L123.20 350.59 L124.20 350.51 L125.20 350.44 L126.20 350.37 L127.20 350.30 L128.20 350.23 L129.20 350.17 L130.20 350.11 L131.20 350.04 L132.20 349.98 L133.20 349.91 L134.20 349.83 L135.20 349.74 L136.20 349.65 L137.20 349.55 L138.20 349.45 L139.20 349.34 L140.20 349.22 L141.20 349.10 L142.20 348.97 L143.20 348.84 L144.20 348.71 L145.20 348.57 L146.20 348.43 L147.20 348.28 L148.20 348.14 L149.20 347.99 L150.20 347.84 L151.20 347.70 L152.20 347.55 L153.20 347.40 L154.20 347.25 L155.20 347.11 L156.20 346.96 L157.20 346.82 L158.20 346.68 L159.20 346.55 L160.20 346.41 L161.20 346.29 L162.20 346.16 L163.20 346.04 L164.20 345.93 L165.20 345.82 L166.20 345.71 L167.20 345.60 L168.20 345.49 L169.20 345.38 L170.20 345.27 L171.20 345.15 L172.20 345.04 L173.20 344.92 L174.20 344.80 L175.20 344.67 L176.20 344.54 L177.20 344.40 L178.20 344.26 L179.20 344.12 L180.20 343.97 L181.20 343.82 L182.20 343.66 L183.20 343.51 L184.20 343.36 L185.20 343.21 L186.20 343.07 L187.20 342.92 L188.20 342.79 L189.20 342.65 L190.20 342.51 L191.20 342.37 L192.20 342.22 L193.20 342.08 L194.20 341.93 L195.20 341.79 L196.20 341.64 L197.20 341.50 L198.20 341.35 L199.20 341.21 L200.20 341.07 L201.20 340.93 L202.20 340.79 L203.20 340.66 L204.20 340.53 L205.20 340.41 L206.20 340.28 L207.20 340.17 L208.20 340.05 L209.20 339.95 L210.20 339.85 L211.20 339.75 L212.20 339.67 L213.20 339.59 L214.20 339.51 L215.20 339.45 L216.20 339.38 L217.20 339.32 L218.20 339.26 L219.20 339.20 L220.20 339.14 L221.20 339.08 L222.20 339.02 L223.20 338.97 L224.20 338.92 L225.20 338.87 L226.20 338.82 L227.20 338.77 L228.20 338.73 L229.20 338.68 L230.20 338.64 L231.20 338.60 L232.20 338.56 L233.20 338.52 L234.20 338.49 L235.20 338.45 L236.20 338.42 L237.20 338.39 L238.20 338.36 L239.20 338.34 L240.20 338.31 L241.20 338.29 L242.20 338.27 L243.20 338.24 L244.20 338.22 L245.20 338.20 L246.20 338.18 L247.20 338.15 L248.20 338.13 L249.20 338.11 L250.20 338.09 L251.20 338.07 L252.20 338.05 L253.20 338.04 L254.20 338.02 L255.20 338.00 L256.20 337.99 L257.20 337.97 L258.20 337.96 L259.20 337.95 L260.20 337.94 L261.20 337.93 L262.20 337.92 L263.20 337.91 L264.20 337.91 L265.20 337.90 L266.20 337.90 L267.20 337.90 L268.20 337.90 L269.20 337.90 L270.20 337.90 L271.20 337.91 L272.20 337.91 L273.20 337.91 L274.20 337.92 L275.20 337.92 L276.20 337.93 L277.20 337.93 L278.20 337.94 L279.20 337.95 L280.20 337.95 L281.20 337.96 L282.20 337.96 L283.20 337.97 L284.20 337.97 L285.20 337.98 L286.20 337.98 L287.20 337.99 L288.20 337.99 L289.20 337.99 L290.20 338.00 L291.20 338.00 L292.20 338.00 L293.20 338.00 L294.20 338.00 L295.20 338.00 L296.20 338.00 L297.20 338.00 L298.20 338.00 L299.20 338.00 L300.20 338.00 L301.20 338.00 L302.20 338.00 L303.20 338.00 L304.20 338.00 L305.20 338.00 L306.20 338.00 L307.20 338.00 L308.20 338.00 L309.20 338.00 L310.20 338.00 L311.20 338.00 L312.20 338.00 L313.20 338.00 L314.20 338.00 L315.20 338.00 L316.20 338.00 L317.20 338.00 L318.20 338.00 L319.20 338.00 L320.20 338.00 L321.20 338.00 L322.20 338.00 L323.20 338.00 L324.20 338.01 L325.20 338.01 L326.20 338.01 L327.20 338.02 L328.20 338.02 L329.20 338.02 L330.20 338.03 L331.20 338.03 L332.20 338.04 L333.20 338.04 L334.20 338.05 L335.20 338.05 L336.20 338.06 L337.20 338.06 L338.20 338.07 L339.20 338.07 L340.20 338.08 L341.20 338.08 L342.20 338.09 L343.20 338.09 L344.20 338.09 L345.20 338.10 L346.20 338.10 L347.20 338.11 L348.20 338.11 L349.20 338.12 L350.20 338.12 L351.20 338.12 L352.20 338.13 L353.20 338.13 L354.20 338.14 L355.20 338.14 L356.20 338.15 L357.20 338.16 L358.20 338.16 L359.20 338.16 L360.20 338.17 L361.20 338.17 L362.20 338.18 L363.20 338.18 L364.20 338.19 L365.20 338.19 L366.20 338.19 L367.20 338.19 L368.20 338.20 L369.20 338.20 L370.20 338.20 L371.20 338.20 L372.20 338.20 L373.20 338.20 L374.20 338.20 L375.20 338.20 L376.20 338.20 L377.20 338.20 L378.20 338.20 L379.20 338.20 L380.20 338.20 L381.20 338.20 L382.20 338.20 L383.20 338.20 L384.20 338.20 L385.00 338.20" stroke="#87ceeb" stroke-width="1.45" fill="none" stroke-linejoin="round" clip-path="url(#c2)"/>
<rect x="54.65" y="378.95" width="5.10" height="5.10" fill="none" stroke="#87ceeb" stroke-width="1.25"/>
<rect x="80.75" y="363.95" width="5.10" height="5.10" fill="none" stroke="#87ceeb" stroke-width="1.25"/>
<rect x="106.85" y="349.85" width="5.10" height="5.10" fill="none" stroke="#87ceeb" stroke-width="1.25"/>
<rect x="133.15" y="347.15" width="5.10" height="5.10" fill="none" stroke="#87ceeb" stroke-width="1.25"/>
<rect x="159.35" y="343.65" width="5.10" height="5.10" fill="none" stroke="#87ceeb" stroke-width="1.25"/>
<rect x="185.55" y="340.25" width="5.10" height="5.10" fill="none" stroke="#87ceeb" stroke-width="1.25"/>
<rect x="211.85" y="337.05" width="5.10" height="5.10" fill="none" stroke="#87ceeb" stroke-width="1.25"/>
<rect x="238.15" y="335.75" width="5.10" height="5.10" fill="none" stroke="#87ceeb" stroke-width="1.25"/>
<rect x="264.45" y="335.35" width="5.10" height="5.10" fill="none" stroke="#87ceeb" stroke-width="1.25"/>
<rect x="290.55" y="335.45" width="5.10" height="5.10" fill="none" stroke="#87ceeb" stroke-width="1.25"/>
<rect x="316.85" y="335.45" width="5.10" height="5.10" fill="none" stroke="#87ceeb" stroke-width="1.25"/>
<rect x="343.05" y="335.55" width="5.10" height="5.10" fill="none" stroke="#87ceeb" stroke-width="1.25"/>
<rect x="369.35" y="335.65" width="5.10" height="5.10" fill="none" stroke="#87ceeb" stroke-width="1.25"/>
<rect x="55.60" y="4.50" width="329.40" height="191.50" fill="none" stroke="#000" stroke-width="1"/>
<rect x="55.60" y="200.60" width="329.40" height="191.90" fill="none" stroke="#000" stroke-width="1"/>
<text x="48" y="199.40" text-anchor="end" font-size="12" font-family="Liberation Serif, serif" font-weight="bold" stroke="#000" stroke-width="0.2">0</text>
<text x="48" y="164.85" text-anchor="end" font-size="12" font-family="Liberation Serif, serif" font-weight="bold" stroke="#000" stroke-width="0.2">4000</text>
<text x="48" y="130.30" text-anchor="end" font-size="12" font-family="Liberation Serif, serif" font-weight="bold" stroke="#000" stroke-width="0.2">8000</text>
<text x="48" y="95.76" text-anchor="end" font-size="12" font-family="Liberation Serif, serif" font-weight="bold" stroke="#000" stroke-width="0.2">12000</text>
<text x="48" y="61.21" text-anchor="end" font-size="12" font-family="Liberation Serif, serif" font-weight="bold" stroke="#000" stroke-width="0.2">16000</text>
<text x="48" y="26.66" text-anchor="end" font-size="12" font-family="Liberation Serif, serif" font-weight="bold" stroke="#000" stroke-width="0.2">20000</text>
<text x="48" y="385.80" text-anchor="end" font-size="12" font-family="Liberation Serif, serif" font-weight="bold" stroke="#000" stroke-width="0.2">0</text>
<text x="48" y="343.16" text-anchor="end" font-size="12" font-family="Liberation Serif, serif" font-weight="bold" stroke="#000" stroke-width="0.2">0.2</text>
<text x="48" y="300.52" text-anchor="end" font-size="12" font-family="Liberation Serif, serif" font-weight="bold" stroke="#000" stroke-width="0.2">0.4</text>
<text x="48" y="257.88" text-anchor="end" font-size="12" font-family="Liberation Serif, serif" font-weight="bold" stroke="#000" stroke-width="0.2">0.6</text>
<text x="48" y="215.24" text-anchor="end" font-size="12" font-family="Liberation Serif, serif" font-weight="bold" stroke="#000" stroke-width="0.2">0.8</text>
<text x="57.00" y="408.6" text-anchor="middle" font-size="12" letter-spacing="0.15" font-family="Liberation Serif, serif" font-weight="bold" stroke="#000" stroke-width="0.2">0</text>
<text x="122.58" y="408.6" text-anchor="middle" font-size="12" letter-spacing="0.15" font-family="Liberation Serif, serif" font-weight="bold" stroke="#000" stroke-width="0.2">0.05</text>
<text x="188.16" y="408.6" text-anchor="middle" font-size="12" letter-spacing="0.15" font-family="Liberation Serif, serif" font-weight="bold" stroke="#000" stroke-width="0.2">0.1</text>
<text x="253.74" y="408.6" text-anchor="middle" font-size="12" letter-spacing="0.15" font-family="Liberation Serif, serif" font-weight="bold" stroke="#000" stroke-width="0.2">0.15</text>
<text x="319.32" y="408.6" text-anchor="middle" font-size="12" letter-spacing="0.15" font-family="Liberation Serif, serif" font-weight="bold" stroke="#000" stroke-width="0.2">0.2</text>
<text x="384.90" y="408.6" text-anchor="middle" font-size="12" letter-spacing="0.15" font-family="Liberation Serif, serif" font-weight="bold" stroke="#000" stroke-width="0.2">0.25</text>
<text transform="translate(11.6 100.1) rotate(-90)" text-anchor="middle" font-size="12" font-family="Liberation Serif, serif" font-weight="bold" stroke="#000" stroke-width="0.2">temperature [K]</text>
<text transform="translate(11.6 295.9) rotate(-90)" text-anchor="middle" font-size="12" font-family="Liberation Serif, serif" font-weight="bold" stroke="#000" stroke-width="0.2">mole fractions [-]</text>
<text x="197.4" y="426.5" font-size="12" font-family="Liberation Serif, serif" font-weight="bold" stroke="#000" stroke-width="0.2">time <tspan font-weight="normal" stroke-width="0.1">[μs]</tspan></text>
<text x="167.0" y="95.8" font-size="12" letter-spacing="0.1" font-family="Liberation Serif, serif" font-weight="bold" stroke="#000" stroke-width="0.2">QSS phase</text>
<path d="M168.00 100.20 H217.60" stroke="#000" stroke-width="1.2" fill="none"/>
<path d="M221.60 100.20 L213.40 97.70 L213.40 102.70 Z" fill="#000"/>
<text x="167.0" y="247.8" font-size="12" letter-spacing="0.1" font-family="Liberation Serif, serif" font-weight="bold" stroke="#000" stroke-width="0.2">QSS phase</text>
<path d="M168.00 253.90 H217.60" stroke="#000" stroke-width="1.2" fill="none"/>
<path d="M221.60 253.90 L213.40 251.40 L213.40 256.40 Z" fill="#000"/>
<text x="225.2" y="174.5" text-anchor="end" font-size="11" letter-spacing="0.12" font-family="Liberation Serif, serif" font-weight="bold" stroke="#000" stroke-width="0.2">DMS: T<tspan font-size="8.8" dy="3">v</tspan></text>
<text x="225.2" y="188.1" text-anchor="end" font-size="11" font-family="Liberation Serif, serif" font-weight="bold" stroke="#000" stroke-width="0.2">T<tspan font-size="8.8" dy="3">r</tspan></text>
<text x="334.3" y="174.5" text-anchor="end" font-size="11" letter-spacing="0.07" font-family="Liberation Serif, serif" font-weight="bold" stroke="#000" stroke-width="0.2">CFD-MMT: T<tspan font-size="8.8" dy="3">v</tspan></text>
<path d="M231.7 172 H261.9" stroke="#ff0000" stroke-width="1.45" fill="none"/>
<rect x="244.15" y="169.45" width="5.10" height="5.10" fill="none" stroke="#ff0000" stroke-width="1.25"/>
<path d="M231.7 185.8 H261.9" stroke="#0000ff" stroke-width="1.45" fill="none"/>
<circle cx="246.70" cy="185.80" r="2.6" fill="none" stroke="#0000ff" stroke-width="1.25"/>
<path d="M340.9 171.8 H370" stroke="#ff0000" stroke-width="1.90" stroke-dasharray="3.4 5.1" fill="none"/>
<text x="271.1" y="272.5" text-anchor="end" font-size="11" font-family="Liberation Serif, serif" font-weight="bold" stroke="#000" stroke-width="0.2">DMS</text>
<text x="271.1" y="286.3" text-anchor="end" font-size="11" font-family="Liberation Serif, serif" font-weight="bold" stroke="#000" stroke-width="0.2">CFD</text>
<path d="M277.9 269.1 H307.6" stroke="#111" stroke-width="1.40" fill="none"/>
<rect x="290.30" y="266.60" width="5.10" height="5.10" fill="none" stroke="#111" stroke-width="1.25"/>
<path d="M277.9 282.5 H307" stroke="#111" stroke-width="1.70" stroke-dasharray="3.4 5.0" fill="none"/>
<text x="334.3" y="272.20" text-anchor="end" font-size="11" font-family="Liberation Serif, serif" font-weight="bold" stroke="#000" stroke-width="0.2">N<tspan font-size="8.8" dy="3">2</tspan></text>
<rect x="353.2" y="265.90" width="5.6" height="5.6" fill="#ff0000"/>
<text x="334.3" y="285.98" text-anchor="end" font-size="11" font-family="Liberation Serif, serif" font-weight="bold" stroke="#000" stroke-width="0.2">O<tspan font-size="8.8" dy="3">2</tspan></text>
<rect x="353.2" y="279.68" width="5.6" height="5.6" fill="#0000ff"/>
<text x="334.3" y="299.76" text-anchor="end" font-size="11" font-family="Liberation Serif, serif" font-weight="bold" stroke="#000" stroke-width="0.2">NO</text>
<rect x="353.2" y="293.46" width="5.6" height="5.6" fill="#006400"/>
<text x="334.3" y="313.54" text-anchor="end" font-size="11" font-family="Liberation Serif, serif" font-weight="bold" stroke="#000" stroke-width="0.2">N</text>
<rect x="353.2" y="307.24" width="5.6" height="5.6" fill="#ffa500"/>
<text x="334.3" y="327.32" text-anchor="end" font-size="11" font-family="Liberation Serif, serif" font-weight="bold" stroke="#000" stroke-width="0.2">O</text>
<rect x="353.2" y="321.02" width="5.6" height="5.6" fill="#87ceeb"/>
</svg>
</body></html>
